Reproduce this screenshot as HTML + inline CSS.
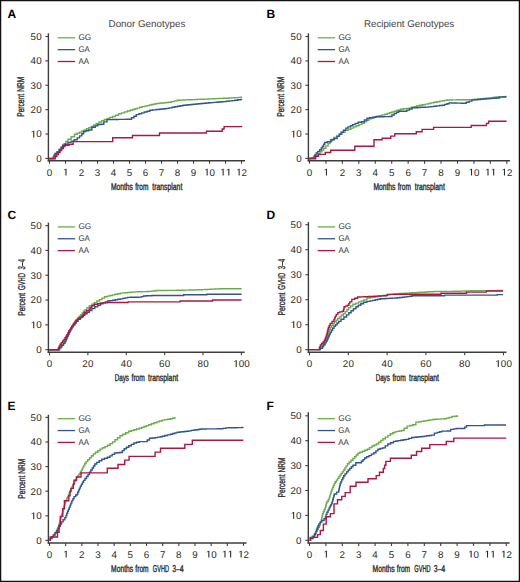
<!DOCTYPE html><html><head><meta charset="utf-8"><style>html,body{margin:0;padding:0;background:#fff;}svg{display:block;}text{font-family:"Liberation Sans", sans-serif;text-rendering:geometricPrecision;}</style></head><body>
<svg width="520" height="582" viewBox="0 0 520 582">
<rect x="0" y="0" width="520" height="582" fill="#fff"/>
<line x1="48.4" y1="33.3" x2="48.4" y2="161.39999999999998" stroke="#3d3d3d" stroke-width="1.4"/>
<line x1="47.699999999999996" y1="160.7" x2="245" y2="160.7" stroke="#3d3d3d" stroke-width="1.5"/>
<line x1="45.4" y1="158.40" x2="48.4" y2="158.40" stroke="#3d3d3d" stroke-width="1.1"/>
<text x="38.95" y="161.8" font-size="9.8" text-anchor="middle" fill="#2a2a2a">0</text>
<line x1="45.4" y1="134.02" x2="48.4" y2="134.02" stroke="#3d3d3d" stroke-width="1.1"/>
<path transform="translate(30.40,137.42) scale(0.005004,-0.004785)" d="M560 0H775V1409H620L240 1170V1040L560 1225Z" fill="#2a2a2a"/>
<text x="38.95" y="137.42" font-size="9.8" text-anchor="middle" fill="#2a2a2a">0</text>
<line x1="45.4" y1="109.64" x2="48.4" y2="109.64" stroke="#3d3d3d" stroke-width="1.1"/>
<text x="33.25" y="113.04" font-size="9.8" text-anchor="middle" fill="#2a2a2a">2</text>
<text x="38.95" y="113.04" font-size="9.8" text-anchor="middle" fill="#2a2a2a">0</text>
<line x1="45.4" y1="85.26" x2="48.4" y2="85.26" stroke="#3d3d3d" stroke-width="1.1"/>
<text x="33.25" y="88.66" font-size="9.8" text-anchor="middle" fill="#2a2a2a">3</text>
<text x="38.95" y="88.66" font-size="9.8" text-anchor="middle" fill="#2a2a2a">0</text>
<line x1="45.4" y1="60.88" x2="48.4" y2="60.88" stroke="#3d3d3d" stroke-width="1.1"/>
<text x="33.25" y="64.28" font-size="9.8" text-anchor="middle" fill="#2a2a2a">4</text>
<text x="38.95" y="64.28" font-size="9.8" text-anchor="middle" fill="#2a2a2a">0</text>
<line x1="45.4" y1="36.50" x2="48.4" y2="36.50" stroke="#3d3d3d" stroke-width="1.1"/>
<text x="33.25" y="39.9" font-size="9.8" text-anchor="middle" fill="#2a2a2a">5</text>
<text x="38.95" y="39.9" font-size="9.8" text-anchor="middle" fill="#2a2a2a">0</text>
<line x1="49.50" y1="160.7" x2="49.50" y2="163.7" stroke="#3d3d3d" stroke-width="1.1"/>
<text x="49.50" y="175.6" font-size="9.8" text-anchor="middle" fill="#2a2a2a">0</text>
<line x1="65.50" y1="160.7" x2="65.50" y2="163.7" stroke="#3d3d3d" stroke-width="1.1"/>
<path transform="translate(62.65,175.6) scale(0.005004,-0.004785)" d="M560 0H775V1409H620L240 1170V1040L560 1225Z" fill="#2a2a2a"/>
<line x1="81.50" y1="160.7" x2="81.50" y2="163.7" stroke="#3d3d3d" stroke-width="1.1"/>
<text x="81.50" y="175.6" font-size="9.8" text-anchor="middle" fill="#2a2a2a">2</text>
<line x1="97.50" y1="160.7" x2="97.50" y2="163.7" stroke="#3d3d3d" stroke-width="1.1"/>
<text x="97.50" y="175.6" font-size="9.8" text-anchor="middle" fill="#2a2a2a">3</text>
<line x1="113.50" y1="160.7" x2="113.50" y2="163.7" stroke="#3d3d3d" stroke-width="1.1"/>
<text x="113.50" y="175.6" font-size="9.8" text-anchor="middle" fill="#2a2a2a">4</text>
<line x1="129.50" y1="160.7" x2="129.50" y2="163.7" stroke="#3d3d3d" stroke-width="1.1"/>
<text x="129.50" y="175.6" font-size="9.8" text-anchor="middle" fill="#2a2a2a">5</text>
<line x1="145.50" y1="160.7" x2="145.50" y2="163.7" stroke="#3d3d3d" stroke-width="1.1"/>
<text x="145.50" y="175.6" font-size="9.8" text-anchor="middle" fill="#2a2a2a">6</text>
<line x1="161.50" y1="160.7" x2="161.50" y2="163.7" stroke="#3d3d3d" stroke-width="1.1"/>
<text x="161.50" y="175.6" font-size="9.8" text-anchor="middle" fill="#2a2a2a">7</text>
<line x1="177.50" y1="160.7" x2="177.50" y2="163.7" stroke="#3d3d3d" stroke-width="1.1"/>
<text x="177.50" y="175.6" font-size="9.8" text-anchor="middle" fill="#2a2a2a">8</text>
<line x1="193.50" y1="160.7" x2="193.50" y2="163.7" stroke="#3d3d3d" stroke-width="1.1"/>
<text x="193.50" y="175.6" font-size="9.8" text-anchor="middle" fill="#2a2a2a">9</text>
<line x1="209.50" y1="160.7" x2="209.50" y2="163.7" stroke="#3d3d3d" stroke-width="1.1"/>
<path transform="translate(203.80,175.6) scale(0.005004,-0.004785)" d="M560 0H775V1409H620L240 1170V1040L560 1225Z" fill="#2a2a2a"/>
<text x="212.35" y="175.6" font-size="9.8" text-anchor="middle" fill="#2a2a2a">0</text>
<line x1="225.50" y1="160.7" x2="225.50" y2="163.7" stroke="#3d3d3d" stroke-width="1.1"/>
<path transform="translate(219.80,175.6) scale(0.005004,-0.004785)" d="M560 0H775V1409H620L240 1170V1040L560 1225Z" fill="#2a2a2a"/>
<path transform="translate(225.50,175.6) scale(0.005004,-0.004785)" d="M560 0H775V1409H620L240 1170V1040L560 1225Z" fill="#2a2a2a"/>
<line x1="241.50" y1="160.7" x2="241.50" y2="163.7" stroke="#3d3d3d" stroke-width="1.1"/>
<path transform="translate(235.80,175.6) scale(0.005004,-0.004785)" d="M560 0H775V1409H620L240 1170V1040L560 1225Z" fill="#2a2a2a"/>
<text x="244.35" y="175.6" font-size="9.8" text-anchor="middle" fill="#2a2a2a">2</text>
<line x1="57.7" y1="37.80" x2="75.1" y2="37.80" stroke="#6aae4a" stroke-width="1.3"/>
<text x="78.4" y="40.1" font-size="8.3" font-weight="normal" text-anchor="start" fill="#333" textLength="12.9" lengthAdjust="spacingAndGlyphs">GG</text>
<line x1="57.7" y1="49.65" x2="75.1" y2="49.65" stroke="#33558f" stroke-width="1.3"/>
<text x="78.4" y="51.95" font-size="8.3" font-weight="normal" text-anchor="start" fill="#333" textLength="11.4" lengthAdjust="spacingAndGlyphs">GA</text>
<line x1="57.7" y1="61.50" x2="75.1" y2="61.50" stroke="#ae1640" stroke-width="1.3"/>
<text x="78.4" y="63.8" font-size="8.3" font-weight="normal" text-anchor="start" fill="#333" textLength="10.6" lengthAdjust="spacingAndGlyphs">AA</text>
<text x="7.6" y="17.6" font-size="12" font-weight="bold" text-anchor="start" fill="#000">A</text>
<text x="108.6" y="26.6" font-size="9.8" font-weight="normal" text-anchor="start" fill="#444" textLength="76.8" lengthAdjust="spacingAndGlyphs">Donor Genotypes</text>
<text x="110.90" y="190.1" font-size="10.0" fill="#2a2a2a" stroke="#2a2a2a" stroke-width="0.4" textLength="22.10" lengthAdjust="spacingAndGlyphs">Months</text>
<text x="135.30" y="190.1" font-size="10.0" fill="#2a2a2a" stroke="#2a2a2a" stroke-width="0.4" textLength="13.10" lengthAdjust="spacingAndGlyphs">from</text>
<text x="152.30" y="190.1" font-size="10.0" fill="#2a2a2a" stroke="#2a2a2a" stroke-width="0.4" textLength="30.00" lengthAdjust="spacingAndGlyphs">transplant</text>
<text transform="translate(23.9,116.80) rotate(-90)" x="0" y="0" font-size="9.9" fill="#2a2a2a" stroke="#2a2a2a" stroke-width="0.35" textLength="22.90" lengthAdjust="spacingAndGlyphs">Percent</text>
<text transform="translate(23.9,91.80) rotate(-90)" x="0" y="0" font-size="9.9" fill="#2a2a2a" stroke="#2a2a2a" stroke-width="0.35" textLength="15.00" lengthAdjust="spacingAndGlyphs">NRM</text>
<polyline points="49.0,158.5 53.3,158.5 53.4,158.5 53.4,156.9 53.5,156.9 54.1,156.9 54.1,155.2 55.2,155.2 55.2,153.4 55.8,153.4 57.0,153.4 57.0,152.0 58.1,152.0 59.2,152.0 59.2,149.4 60.4,149.4 61.3,149.4 61.3,147.0 62.2,147.0 62.8,147.0 62.8,145.3 64.0,145.3 64.0,143.6 64.6,143.6 65.8,143.6 65.8,141.4 68.0,141.4 68.0,139.3 69.2,139.3 71.1,139.3 71.1,136.7 73.0,136.7 74.5,136.7 74.5,134.3 76.0,134.3 77.2,134.3 77.2,133.2 78.5,133.2 79.7,133.2 79.7,132.1 81.9,132.1 81.9,130.9 83.1,130.9 84.2,130.9 84.2,129.9 86.5,129.9 86.5,128.8 87.7,128.8 88.8,128.8 88.8,127.7 91.2,127.7 91.2,126.5 92.3,126.5 93.7,126.5 93.7,125.0 96.3,125.0 96.3,123.5 97.7,123.5 99.0,123.5 99.0,122.0 101.8,122.0 101.8,120.6 103.1,120.6 104.4,120.6 104.4,119.5 107.2,119.5 107.2,118.5 108.5,118.5 109.8,118.5 109.8,117.5 112.5,117.5 112.5,116.5 113.8,116.5 115.3,116.5 115.3,115.2 118.5,115.2 118.5,113.8 120.0,113.8 121.5,113.8 121.5,112.9 124.5,112.9 124.5,111.9 127.4,111.9 127.4,111.0 128.9,111.0 130.1,111.0 130.1,110.3 132.5,110.3 132.5,109.5 134.9,109.5 134.9,108.8 137.3,108.8 137.3,108.1 139.7,108.1 139.7,107.3 142.1,107.3 142.1,106.6 143.3,106.6 144.5,106.6 144.5,106.1 146.9,106.1 146.9,105.6 149.3,105.6 149.3,105.0 151.7,105.0 151.7,104.5 154.1,104.5 154.1,104.0 156.5,104.0 156.5,103.5 157.7,103.5 158.9,103.5 158.9,103.3 161.4,103.3 161.4,103.0 163.8,103.0 163.8,102.8 166.3,102.8 166.3,102.5 168.8,102.5 168.8,102.3 170.0,102.3 171.4,102.3 171.4,101.6 174.3,101.6 174.3,100.9 177.2,100.9 177.2,100.2 178.7,100.2 179.9,100.2 179.9,100.1 182.4,100.1 182.4,100.0 184.9,100.0 184.9,99.9 187.4,99.9 187.4,99.8 189.9,99.8 189.9,99.7 192.4,99.7 192.4,99.6 194.9,99.6 194.9,99.5 197.4,99.5 197.4,99.4 199.9,99.4 199.9,99.3 202.4,99.3 202.4,99.2 204.9,99.2 204.9,99.1 206.1,99.1 207.4,99.1 207.4,99.0 210.1,99.0 210.1,98.9 212.8,98.9 212.8,98.8 215.4,98.8 215.4,98.6 218.1,98.6 218.1,98.5 220.8,98.5 220.8,98.4 223.5,98.4 223.5,98.3 224.8,98.3 226.0,98.3 226.0,98.2 228.5,98.2 228.5,98.0 231.0,98.0 231.0,97.9 233.5,97.9 233.5,97.7 236.0,97.7 236.0,97.6 238.5,97.6 238.5,97.4 241.0,97.4 241.0,97.3 242.2,97.3" fill="none" stroke="#6aae4a" stroke-width="1.4" stroke-linejoin="miter" stroke-linecap="butt"/>
<polyline points="49.0,158.5 53.3,158.5 53.4,158.5 53.4,156.9 53.5,156.9 54.1,156.9 54.1,155.2 55.2,155.2 55.2,153.4 55.8,153.4 57.0,153.4 57.0,152.0 58.1,152.0 59.2,152.0 59.2,149.4 60.4,149.4 61.1,149.4 61.1,147.4 62.6,147.4 62.6,145.3 63.3,145.3 64.8,145.3 64.8,144.2 66.2,144.2 68.0,144.2 68.0,142.4 69.7,142.4 71.1,142.4 71.1,141.3 72.5,141.3 74.2,141.3 74.2,139.8 76.0,139.8 77.2,139.8 77.2,137.9 79.6,137.9 79.6,135.9 80.8,135.9 81.8,135.9 81.8,133.7 83.6,133.7 83.6,131.5 84.6,131.5 85.9,131.5 85.9,130.8 88.7,130.8 88.7,130.0 90.0,130.0 91.9,130.0 91.9,127.3 93.8,127.3 95.2,127.3 95.2,125.9 97.8,125.9 97.8,124.6 99.2,124.6 100.8,124.6 100.8,124.2 102.3,124.2 103.8,124.2 103.8,121.9 107.0,121.9 107.0,119.6 108.5,119.6 109.9,119.6 109.9,119.6 112.6,119.6 112.6,119.5 115.3,119.5 115.3,119.5 118.0,119.5 118.0,119.4 120.8,119.4 120.8,119.4 123.5,119.4 123.5,119.4 126.2,119.4 126.2,119.3 128.9,119.3 128.9,119.3 130.3,119.3 131.5,119.3 131.5,117.7 133.9,117.7 133.9,116.2 136.3,116.2 136.3,114.6 137.5,114.6 138.9,114.6 138.9,113.7 141.6,113.7 141.6,112.9 144.3,112.9 144.3,112.0 147.1,112.0 147.1,111.2 149.8,111.2 149.8,110.3 151.2,110.3 152.8,110.3 152.8,109.9 156.1,109.9 156.1,109.5 157.7,109.5 159.0,109.5 159.0,109.2 161.5,109.2 161.5,109.0 164.0,109.0 164.0,108.7 166.5,108.7 166.5,108.4 167.8,108.4 169.2,108.4 169.2,107.9 172.0,107.9 172.0,107.3 174.7,107.3 174.7,106.8 177.5,106.8 177.5,106.3 180.2,106.3 180.2,105.7 183.0,105.7 183.0,105.2 184.4,105.2 185.7,105.2 185.7,105.0 188.2,105.0 188.2,104.7 190.8,104.7 190.8,104.5 193.4,104.5 193.4,104.2 195.9,104.2 195.9,104.0 198.5,104.0 198.5,103.7 201.1,103.7 201.1,103.5 203.7,103.5 203.7,103.2 206.2,103.2 206.2,103.0 207.5,103.0 208.7,103.0 208.7,102.8 211.2,102.8 211.2,102.6 213.7,102.6 213.7,102.4 216.2,102.4 216.2,102.2 218.6,102.2 218.6,102.0 221.1,102.0 221.1,101.8 223.6,101.8 223.6,101.6 224.8,101.6 226.2,101.6 226.2,101.3 229.2,101.3 229.2,100.9 232.1,100.9 232.1,100.6 233.5,100.6 234.9,100.6 234.9,100.2 237.8,100.2 237.8,99.8 240.8,99.8 240.8,99.4 242.2,99.4" fill="none" stroke="#33558f" stroke-width="1.4" stroke-linejoin="miter" stroke-linecap="butt"/>
<polyline points="49.0,158.7 55.2,158.7 55.2,156.5 56.8,156.5 56.8,154.5 58.4,154.5 58.4,152.5 60.0,152.5 60.0,150.5 61.6,150.5 61.6,148.5 63.3,148.5 63.3,146.5 65.0,146.5 65.0,145.3 69.1,145.3 69.1,144.2 73.1,144.2 73.1,141.6 112.7,141.6 112.7,137.7 132.5,137.7 132.5,135.5 159.5,135.5 159.5,133.0 206.4,133.0 206.4,131.2 222.2,131.2 222.2,129.0 224.1,129.0 224.1,126.6 242.2,126.6 242.2,126.6" fill="none" stroke="#ae1640" stroke-width="1.4" stroke-linejoin="miter" stroke-linecap="butt"/>
<line x1="308.4" y1="33.3" x2="308.4" y2="161.39999999999998" stroke="#3d3d3d" stroke-width="1.4"/>
<line x1="307.7" y1="160.7" x2="510" y2="160.7" stroke="#3d3d3d" stroke-width="1.5"/>
<line x1="305.4" y1="158.40" x2="308.4" y2="158.40" stroke="#3d3d3d" stroke-width="1.1"/>
<text x="298.95" y="161.8" font-size="9.8" text-anchor="middle" fill="#2a2a2a">0</text>
<line x1="305.4" y1="134.02" x2="308.4" y2="134.02" stroke="#3d3d3d" stroke-width="1.1"/>
<path transform="translate(290.40,137.42) scale(0.005004,-0.004785)" d="M560 0H775V1409H620L240 1170V1040L560 1225Z" fill="#2a2a2a"/>
<text x="298.95" y="137.42" font-size="9.8" text-anchor="middle" fill="#2a2a2a">0</text>
<line x1="305.4" y1="109.64" x2="308.4" y2="109.64" stroke="#3d3d3d" stroke-width="1.1"/>
<text x="293.25" y="113.04" font-size="9.8" text-anchor="middle" fill="#2a2a2a">2</text>
<text x="298.95" y="113.04" font-size="9.8" text-anchor="middle" fill="#2a2a2a">0</text>
<line x1="305.4" y1="85.26" x2="308.4" y2="85.26" stroke="#3d3d3d" stroke-width="1.1"/>
<text x="293.25" y="88.66" font-size="9.8" text-anchor="middle" fill="#2a2a2a">3</text>
<text x="298.95" y="88.66" font-size="9.8" text-anchor="middle" fill="#2a2a2a">0</text>
<line x1="305.4" y1="60.88" x2="308.4" y2="60.88" stroke="#3d3d3d" stroke-width="1.1"/>
<text x="293.25" y="64.28" font-size="9.8" text-anchor="middle" fill="#2a2a2a">4</text>
<text x="298.95" y="64.28" font-size="9.8" text-anchor="middle" fill="#2a2a2a">0</text>
<line x1="305.4" y1="36.50" x2="308.4" y2="36.50" stroke="#3d3d3d" stroke-width="1.1"/>
<text x="293.25" y="39.9" font-size="9.8" text-anchor="middle" fill="#2a2a2a">5</text>
<text x="298.95" y="39.9" font-size="9.8" text-anchor="middle" fill="#2a2a2a">0</text>
<line x1="309.50" y1="160.7" x2="309.50" y2="163.7" stroke="#3d3d3d" stroke-width="1.1"/>
<text x="309.50" y="175.6" font-size="9.8" text-anchor="middle" fill="#2a2a2a">0</text>
<line x1="325.94" y1="160.7" x2="325.94" y2="163.7" stroke="#3d3d3d" stroke-width="1.1"/>
<path transform="translate(323.09,175.6) scale(0.005004,-0.004785)" d="M560 0H775V1409H620L240 1170V1040L560 1225Z" fill="#2a2a2a"/>
<line x1="342.38" y1="160.7" x2="342.38" y2="163.7" stroke="#3d3d3d" stroke-width="1.1"/>
<text x="342.38" y="175.6" font-size="9.8" text-anchor="middle" fill="#2a2a2a">2</text>
<line x1="358.82" y1="160.7" x2="358.82" y2="163.7" stroke="#3d3d3d" stroke-width="1.1"/>
<text x="358.82" y="175.6" font-size="9.8" text-anchor="middle" fill="#2a2a2a">3</text>
<line x1="375.27" y1="160.7" x2="375.27" y2="163.7" stroke="#3d3d3d" stroke-width="1.1"/>
<text x="375.27" y="175.6" font-size="9.8" text-anchor="middle" fill="#2a2a2a">4</text>
<line x1="391.71" y1="160.7" x2="391.71" y2="163.7" stroke="#3d3d3d" stroke-width="1.1"/>
<text x="391.71" y="175.6" font-size="9.8" text-anchor="middle" fill="#2a2a2a">5</text>
<line x1="408.15" y1="160.7" x2="408.15" y2="163.7" stroke="#3d3d3d" stroke-width="1.1"/>
<text x="408.15" y="175.6" font-size="9.8" text-anchor="middle" fill="#2a2a2a">6</text>
<line x1="424.59" y1="160.7" x2="424.59" y2="163.7" stroke="#3d3d3d" stroke-width="1.1"/>
<text x="424.59" y="175.6" font-size="9.8" text-anchor="middle" fill="#2a2a2a">7</text>
<line x1="441.03" y1="160.7" x2="441.03" y2="163.7" stroke="#3d3d3d" stroke-width="1.1"/>
<text x="441.03" y="175.6" font-size="9.8" text-anchor="middle" fill="#2a2a2a">8</text>
<line x1="457.48" y1="160.7" x2="457.48" y2="163.7" stroke="#3d3d3d" stroke-width="1.1"/>
<text x="457.48" y="175.6" font-size="9.8" text-anchor="middle" fill="#2a2a2a">9</text>
<line x1="473.92" y1="160.7" x2="473.92" y2="163.7" stroke="#3d3d3d" stroke-width="1.1"/>
<path transform="translate(468.22,175.6) scale(0.005004,-0.004785)" d="M560 0H775V1409H620L240 1170V1040L560 1225Z" fill="#2a2a2a"/>
<text x="476.77" y="175.6" font-size="9.8" text-anchor="middle" fill="#2a2a2a">0</text>
<line x1="490.36" y1="160.7" x2="490.36" y2="163.7" stroke="#3d3d3d" stroke-width="1.1"/>
<path transform="translate(484.66,175.6) scale(0.005004,-0.004785)" d="M560 0H775V1409H620L240 1170V1040L560 1225Z" fill="#2a2a2a"/>
<path transform="translate(490.36,175.6) scale(0.005004,-0.004785)" d="M560 0H775V1409H620L240 1170V1040L560 1225Z" fill="#2a2a2a"/>
<line x1="506.80" y1="160.7" x2="506.80" y2="163.7" stroke="#3d3d3d" stroke-width="1.1"/>
<path transform="translate(501.10,175.6) scale(0.005004,-0.004785)" d="M560 0H775V1409H620L240 1170V1040L560 1225Z" fill="#2a2a2a"/>
<text x="509.65" y="175.6" font-size="9.8" text-anchor="middle" fill="#2a2a2a">2</text>
<line x1="317.7" y1="37.80" x2="335.09999999999997" y2="37.80" stroke="#6aae4a" stroke-width="1.3"/>
<text x="338.4" y="40.1" font-size="8.3" font-weight="normal" text-anchor="start" fill="#333" textLength="12.9" lengthAdjust="spacingAndGlyphs">GG</text>
<line x1="317.7" y1="49.65" x2="335.09999999999997" y2="49.65" stroke="#33558f" stroke-width="1.3"/>
<text x="338.4" y="51.95" font-size="8.3" font-weight="normal" text-anchor="start" fill="#333" textLength="11.4" lengthAdjust="spacingAndGlyphs">GA</text>
<line x1="317.7" y1="61.50" x2="335.09999999999997" y2="61.50" stroke="#ae1640" stroke-width="1.3"/>
<text x="338.4" y="63.8" font-size="8.3" font-weight="normal" text-anchor="start" fill="#333" textLength="10.6" lengthAdjust="spacingAndGlyphs">AA</text>
<text x="266.6" y="17.6" font-size="12" font-weight="bold" text-anchor="start" fill="#000">B</text>
<text x="364.0" y="26.6" font-size="9.8" font-weight="normal" text-anchor="start" fill="#444" textLength="90.2" lengthAdjust="spacingAndGlyphs">Recipient Genotypes</text>
<text x="373.40" y="190.1" font-size="10.0" fill="#2a2a2a" stroke="#2a2a2a" stroke-width="0.4" textLength="22.10" lengthAdjust="spacingAndGlyphs">Months</text>
<text x="397.80" y="190.1" font-size="10.0" fill="#2a2a2a" stroke="#2a2a2a" stroke-width="0.4" textLength="13.10" lengthAdjust="spacingAndGlyphs">from</text>
<text x="414.80" y="190.1" font-size="10.0" fill="#2a2a2a" stroke="#2a2a2a" stroke-width="0.4" textLength="30.00" lengthAdjust="spacingAndGlyphs">transplant</text>
<text transform="translate(284.0,116.80) rotate(-90)" x="0" y="0" font-size="9.9" fill="#2a2a2a" stroke="#2a2a2a" stroke-width="0.35" textLength="22.90" lengthAdjust="spacingAndGlyphs">Percent</text>
<text transform="translate(284.0,91.80) rotate(-90)" x="0" y="0" font-size="9.9" fill="#2a2a2a" stroke="#2a2a2a" stroke-width="0.35" textLength="15.00" lengthAdjust="spacingAndGlyphs">NRM</text>
<polyline points="309.0,158.5 310.0,158.5 310.0,158.2 312.0,158.2 312.0,158.0 313.0,158.0 314.5,158.0 314.5,155.8 317.6,155.8 317.6,153.7 319.1,153.7 320.0,153.7 320.0,151.9 321.9,151.9 321.9,150.1 323.7,150.1 323.7,148.3 324.6,148.3 325.8,148.3 325.8,145.9 328.1,145.9 328.1,143.6 329.2,143.6 330.1,143.6 330.1,141.5 331.9,141.5 331.9,139.5 333.7,139.5 333.7,137.4 334.6,137.4 336.6,137.4 336.6,135.9 338.5,135.9 339.6,135.9 339.6,134.2 342.0,134.2 342.0,132.4 343.1,132.4 345.0,132.4 345.0,130.4 346.9,130.4 348.2,130.4 348.2,129.2 350.9,129.2 350.9,128.1 353.6,128.1 353.6,126.9 355.0,126.9 356.4,126.9 356.4,125.7 359.1,125.7 359.1,124.6 361.8,124.6 361.8,123.4 363.1,123.4 364.2,123.4 364.2,121.9 366.6,121.9 366.6,120.3 368.9,120.3 368.9,118.8 370.0,118.8 371.4,118.8 371.4,118.0 374.1,118.0 374.1,117.1 376.8,117.1 376.8,116.3 378.1,116.3 379.4,116.3 379.4,115.6 382.1,115.6 382.1,114.9 384.8,114.9 384.8,114.2 386.1,114.2 387.3,114.2 387.3,113.5 389.6,113.5 389.6,112.8 391.9,112.8 391.9,112.0 394.2,112.0 394.2,111.3 395.4,111.3 397.0,111.3 397.0,110.2 400.3,110.2 400.3,109.2 401.9,109.2 403.2,109.2 403.2,108.8 405.9,108.8 405.9,108.5 408.6,108.5 408.6,108.1 410.0,108.1 411.4,108.1 411.4,107.3 414.1,107.3 414.1,106.6 416.8,106.6 416.8,105.8 418.1,105.8 419.5,105.8 419.5,105.2 422.4,105.2 422.4,104.7 425.3,104.7 425.3,104.1 428.2,104.1 428.2,103.5 429.6,103.5 431.0,103.5 431.0,102.9 433.9,102.9 433.9,102.3 436.8,102.3 436.8,101.7 439.7,101.7 439.7,101.1 441.1,101.1 442.2,101.1 442.2,100.7 444.6,100.7 444.6,100.4 446.9,100.4 446.9,100.0 448.0,100.0 449.3,100.0 449.3,100.0 451.9,100.0 451.9,99.9 454.4,99.9 454.4,99.9 457.0,99.9 457.0,99.8 459.6,99.8 459.6,99.8 462.2,99.8 462.2,99.7 464.8,99.7 464.8,99.7 467.3,99.7 467.3,99.6 469.9,99.6 469.9,99.6 471.2,99.6 472.5,99.6 472.5,99.4 475.1,99.4 475.1,99.1 477.8,99.1 477.8,98.9 480.4,98.9 480.4,98.7 483.1,98.7 483.1,98.4 485.7,98.4 485.7,98.2 487.0,98.2 488.3,98.2 488.3,97.9 490.8,97.9 490.8,97.6 493.4,97.6 493.4,97.3 495.9,97.3 495.9,97.0 498.4,97.0 498.4,96.7 499.7,96.7 500.9,96.7 500.9,96.6 503.1,96.6 503.1,96.6 505.5,96.6 505.5,96.5 506.6,96.5" fill="none" stroke="#6aae4a" stroke-width="1.4" stroke-linejoin="miter" stroke-linecap="butt"/>
<polyline points="309.0,158.5 310.1,158.5 310.1,158.2 312.2,158.2 312.2,158.0 313.3,158.0 313.9,158.0 313.9,156.3 315.1,156.3 315.1,154.6 316.2,154.6 316.2,152.9 316.8,152.9 317.8,152.9 317.8,151.4 319.7,151.4 319.7,149.8 320.7,149.8 321.3,149.8 321.3,148.0 322.4,148.0 322.4,146.2 323.6,146.2 323.6,144.3 324.7,144.3 324.7,142.5 325.3,142.5 327.2,142.5 327.2,141.7 329.2,141.7 330.8,141.7 330.8,139.7 332.3,139.7 334.2,139.7 334.2,138.6 336.2,138.6 337.1,138.6 337.1,136.4 339.1,136.4 339.1,134.3 340.0,134.3 341.1,134.3 341.1,132.2 343.4,132.2 343.4,130.2 345.8,130.2 345.8,128.1 346.9,128.1 348.0,128.1 348.0,126.9 350.4,126.9 350.4,125.8 352.6,125.8 352.6,124.6 353.8,124.6 355.2,124.6 355.2,123.4 358.2,123.4 358.2,122.3 359.6,122.3 361.4,122.3 361.4,121.7 363.1,121.7 364.4,121.7 364.4,120.0 367.0,120.0 367.0,118.3 368.3,118.3 369.7,118.3 369.7,117.8 372.6,117.8 372.6,117.3 375.5,117.3 375.5,116.8 376.9,116.8 378.3,116.8 378.3,116.7 381.0,116.7 381.0,116.7 383.8,116.7 383.8,116.6 386.6,116.6 386.6,116.6 389.3,116.6 389.3,116.5 390.7,116.5 391.9,116.5 391.9,115.0 394.2,115.0 394.2,113.6 395.4,113.6 396.4,113.6 396.4,112.4 398.6,112.4 398.6,111.3 399.6,111.3 405.4,111.3 406.8,111.3 406.8,110.1 409.4,110.1 409.4,109.0 412.1,109.0 412.1,107.8 413.5,107.8 414.8,107.8 414.8,107.7 417.5,107.7 417.5,107.5 420.2,107.5 420.2,107.3 422.9,107.3 422.9,107.2 425.6,107.2 425.6,107.1 428.3,107.1 428.3,106.9 429.6,106.9 431.0,106.9 431.0,106.6 433.7,106.6 433.7,106.2 436.5,106.2 436.5,105.9 439.3,105.9 439.3,105.5 442.0,105.5 442.0,105.2 443.4,105.2 444.6,105.2 444.6,104.4 446.9,104.4 446.9,103.7 449.2,103.7 449.2,102.9 450.4,102.9 451.6,102.9 451.6,103.0 454.0,103.0 454.0,103.0 456.4,103.0 456.4,103.1 458.8,103.1 458.8,103.1 461.2,103.1 461.2,103.2 463.6,103.2 463.6,103.2 464.8,103.2 466.2,103.2 466.2,102.2 469.1,102.2 469.1,101.1 471.9,101.1 471.9,100.1 473.3,100.1 474.8,100.1 474.8,99.8 477.6,99.8 477.6,99.5 480.6,99.5 480.6,99.3 483.4,99.3 483.4,99.0 484.9,99.0 486.2,99.0 486.2,98.8 488.9,98.8 488.9,98.6 491.5,98.6 491.5,98.4 494.1,98.4 494.1,98.2 496.8,98.2 496.8,98.0 498.1,98.0 499.5,98.0 499.5,97.1 500.8,97.1 502.2,97.1 502.2,97.0 505.2,97.0 505.2,96.9 506.6,96.9" fill="none" stroke="#33558f" stroke-width="1.4" stroke-linejoin="miter" stroke-linecap="butt"/>
<polyline points="309.0,158.9 315.7,158.9 315.7,156.4 318.4,156.4 318.4,154.4 325.3,154.4 325.3,152.5 330.7,152.5 330.7,150.2 354.8,150.2 354.8,146.3 374.0,146.3 374.0,139.8 382.1,139.8 382.1,138.2 390.7,138.2 390.7,136.1 394.8,136.1 394.8,133.8 416.3,133.8 416.3,131.7 422.1,131.7 422.1,129.4 433.6,129.4 433.6,127.4 471.2,127.4 471.2,125.5 486.5,125.5 486.5,123.4 488.6,123.4 488.6,121.3 506.6,121.3 506.6,121.3" fill="none" stroke="#ae1640" stroke-width="1.4" stroke-linejoin="miter" stroke-linecap="butt"/>
<line x1="48.4" y1="222.6" x2="48.4" y2="353.0" stroke="#3d3d3d" stroke-width="1.4"/>
<line x1="47.699999999999996" y1="352.3" x2="244.7" y2="352.3" stroke="#3d3d3d" stroke-width="1.5"/>
<line x1="45.4" y1="349.70" x2="48.4" y2="349.70" stroke="#3d3d3d" stroke-width="1.1"/>
<text x="38.95" y="353.1" font-size="9.8" text-anchor="middle" fill="#2a2a2a">0</text>
<line x1="45.4" y1="324.88" x2="48.4" y2="324.88" stroke="#3d3d3d" stroke-width="1.1"/>
<path transform="translate(30.40,328.28) scale(0.005004,-0.004785)" d="M560 0H775V1409H620L240 1170V1040L560 1225Z" fill="#2a2a2a"/>
<text x="38.95" y="328.28" font-size="9.8" text-anchor="middle" fill="#2a2a2a">0</text>
<line x1="45.4" y1="300.06" x2="48.4" y2="300.06" stroke="#3d3d3d" stroke-width="1.1"/>
<text x="33.25" y="303.46" font-size="9.8" text-anchor="middle" fill="#2a2a2a">2</text>
<text x="38.95" y="303.46" font-size="9.8" text-anchor="middle" fill="#2a2a2a">0</text>
<line x1="45.4" y1="275.24" x2="48.4" y2="275.24" stroke="#3d3d3d" stroke-width="1.1"/>
<text x="33.25" y="278.64" font-size="9.8" text-anchor="middle" fill="#2a2a2a">3</text>
<text x="38.95" y="278.64" font-size="9.8" text-anchor="middle" fill="#2a2a2a">0</text>
<line x1="45.4" y1="250.42" x2="48.4" y2="250.42" stroke="#3d3d3d" stroke-width="1.1"/>
<text x="33.25" y="253.82" font-size="9.8" text-anchor="middle" fill="#2a2a2a">4</text>
<text x="38.95" y="253.82" font-size="9.8" text-anchor="middle" fill="#2a2a2a">0</text>
<line x1="45.4" y1="225.60" x2="48.4" y2="225.60" stroke="#3d3d3d" stroke-width="1.1"/>
<text x="33.25" y="229.0" font-size="9.8" text-anchor="middle" fill="#2a2a2a">5</text>
<text x="38.95" y="229.0" font-size="9.8" text-anchor="middle" fill="#2a2a2a">0</text>
<line x1="49.50" y1="352.3" x2="49.50" y2="355.3" stroke="#3d3d3d" stroke-width="1.1"/>
<text x="49.50" y="366.9" font-size="9.8" text-anchor="middle" fill="#2a2a2a">0</text>
<line x1="87.88" y1="352.3" x2="87.88" y2="355.3" stroke="#3d3d3d" stroke-width="1.1"/>
<text x="85.03" y="366.9" font-size="9.8" text-anchor="middle" fill="#2a2a2a">2</text>
<text x="90.73" y="366.9" font-size="9.8" text-anchor="middle" fill="#2a2a2a">0</text>
<line x1="126.26" y1="352.3" x2="126.26" y2="355.3" stroke="#3d3d3d" stroke-width="1.1"/>
<text x="123.41" y="366.9" font-size="9.8" text-anchor="middle" fill="#2a2a2a">4</text>
<text x="129.11" y="366.9" font-size="9.8" text-anchor="middle" fill="#2a2a2a">0</text>
<line x1="164.64" y1="352.3" x2="164.64" y2="355.3" stroke="#3d3d3d" stroke-width="1.1"/>
<text x="161.79" y="366.9" font-size="9.8" text-anchor="middle" fill="#2a2a2a">6</text>
<text x="167.49" y="366.9" font-size="9.8" text-anchor="middle" fill="#2a2a2a">0</text>
<line x1="203.02" y1="352.3" x2="203.02" y2="355.3" stroke="#3d3d3d" stroke-width="1.1"/>
<text x="200.17" y="366.9" font-size="9.8" text-anchor="middle" fill="#2a2a2a">8</text>
<text x="205.87" y="366.9" font-size="9.8" text-anchor="middle" fill="#2a2a2a">0</text>
<line x1="241.40" y1="352.3" x2="241.40" y2="355.3" stroke="#3d3d3d" stroke-width="1.1"/>
<path transform="translate(232.85,366.9) scale(0.005004,-0.004785)" d="M560 0H775V1409H620L240 1170V1040L560 1225Z" fill="#2a2a2a"/>
<text x="241.40" y="366.9" font-size="9.8" text-anchor="middle" fill="#2a2a2a">0</text>
<text x="247.10" y="366.9" font-size="9.8" text-anchor="middle" fill="#2a2a2a">0</text>
<line x1="57.7" y1="226.90" x2="75.1" y2="226.90" stroke="#6aae4a" stroke-width="1.3"/>
<text x="78.4" y="229.2" font-size="8.3" font-weight="normal" text-anchor="start" fill="#333" textLength="12.9" lengthAdjust="spacingAndGlyphs">GG</text>
<line x1="57.7" y1="238.75" x2="75.1" y2="238.75" stroke="#33558f" stroke-width="1.3"/>
<text x="78.4" y="241.05" font-size="8.3" font-weight="normal" text-anchor="start" fill="#333" textLength="11.4" lengthAdjust="spacingAndGlyphs">GA</text>
<line x1="57.7" y1="250.60" x2="75.1" y2="250.60" stroke="#ae1640" stroke-width="1.3"/>
<text x="78.4" y="252.9" font-size="8.3" font-weight="normal" text-anchor="start" fill="#333" textLength="10.6" lengthAdjust="spacingAndGlyphs">AA</text>
<text x="7.6" y="218.7" font-size="12" font-weight="bold" text-anchor="start" fill="#000">C</text>
<text x="114.80" y="381.4" font-size="10.0" fill="#2a2a2a" stroke="#2a2a2a" stroke-width="0.4" textLength="14.10" lengthAdjust="spacingAndGlyphs">Days</text>
<text x="131.55" y="381.4" font-size="10.0" fill="#2a2a2a" stroke="#2a2a2a" stroke-width="0.4" textLength="13.30" lengthAdjust="spacingAndGlyphs">from</text>
<text x="148.10" y="381.4" font-size="10.0" fill="#2a2a2a" stroke="#2a2a2a" stroke-width="0.4" textLength="30.00" lengthAdjust="spacingAndGlyphs">transplant</text>
<text transform="translate(24.6,315.80) rotate(-90)" x="0" y="0" font-size="9.9" fill="#2a2a2a" stroke="#2a2a2a" stroke-width="0.35" textLength="23.00" lengthAdjust="spacingAndGlyphs">Percent</text>
<text transform="translate(24.6,289.90) rotate(-90)" x="0" y="0" font-size="9.9" fill="#2a2a2a" stroke="#2a2a2a" stroke-width="0.35" textLength="17.00" lengthAdjust="spacingAndGlyphs">GVHD</text>
<text transform="translate(24.6,269.60) rotate(-90)" x="0" y="0" font-size="9.9" fill="#2a2a2a" stroke="#2a2a2a" stroke-width="0.35" textLength="3.36" lengthAdjust="spacingAndGlyphs">3</text>
<line x1="22.50" y1="266.04" x2="22.50" y2="262.25" stroke="#2a2a2a" stroke-width="0.9"/>
<text transform="translate(24.6,262.25) rotate(-90)" x="0" y="0" font-size="9.9" fill="#2a2a2a" stroke="#2a2a2a" stroke-width="0.35" textLength="3.15" lengthAdjust="spacingAndGlyphs">4</text>
<polyline points="49.0,349.7 58.2,349.7 59.0,349.7 59.0,347.9 60.6,347.9 60.6,346.1 62.1,346.1 62.1,344.3 63.7,344.3 63.7,342.5 64.5,342.5 65.0,342.5 65.0,340.5 65.9,340.5 65.9,338.5 66.9,338.5 66.9,336.5 67.8,336.5 67.8,334.5 68.8,334.5 68.8,332.5 69.8,332.5 69.8,330.5 70.7,330.5 70.7,328.5 71.2,328.5 71.7,328.5 71.7,326.7 72.7,326.7 72.7,324.9 73.6,324.9 73.6,323.0 74.6,323.0 74.6,321.2 75.1,321.2 75.9,321.2 75.9,319.6 77.5,319.6 77.5,317.9 79.1,317.9 79.1,316.3 79.9,316.3 80.6,316.3 80.6,314.6 82.1,314.6 82.1,313.0 83.5,313.0 83.5,311.3 85.0,311.3 85.0,309.6 85.7,309.6 86.9,309.6 86.9,307.7 89.3,307.7 89.3,305.8 90.5,305.8 91.8,305.8 91.8,304.2 94.3,304.2 94.3,302.6 96.9,302.6 96.9,301.0 98.2,301.0 99.5,301.0 99.5,299.6 102.0,299.6 102.0,298.1 104.5,298.1 104.5,296.7 105.8,296.7 107.1,296.7 107.1,296.1 109.8,296.1 109.8,295.5 112.4,295.5 112.4,294.9 115.0,294.9 115.0,294.3 117.6,294.3 117.6,293.7 120.3,293.7 120.3,293.1 121.6,293.1 122.8,293.1 122.8,292.9 125.2,292.9 125.2,292.7 127.6,292.7 127.6,292.5 130.1,292.5 130.1,292.3 132.5,292.3 132.5,292.1 134.9,292.1 134.9,291.9 136.1,291.9 137.3,291.9 137.3,291.8 139.7,291.8 139.7,291.7 142.1,291.7 142.1,291.6 144.5,291.6 144.5,291.6 146.9,291.6 146.9,291.5 149.3,291.5 149.3,291.4 150.5,291.4 151.7,291.4 151.7,291.1 154.1,291.1 154.1,290.8 156.5,290.8 156.5,290.5 157.7,290.5 158.9,290.5 158.9,290.5 161.4,290.5 161.4,290.5 163.9,290.5 163.9,290.5 166.3,290.5 166.3,290.4 168.8,290.4 168.8,290.4 171.3,290.4 171.3,290.4 173.8,290.4 173.8,290.4 175.0,290.4 176.3,290.4 176.3,290.3 178.9,290.3 178.9,290.3 181.6,290.3 181.6,290.2 184.2,290.2 184.2,290.1 186.8,290.1 186.8,290.1 189.4,290.1 189.4,290.0 192.1,290.0 192.1,290.0 194.7,290.0 194.7,289.9 196.0,289.9 197.3,289.9 197.3,289.8 199.8,289.8 199.8,289.7 202.3,289.7 202.3,289.6 204.8,289.6 204.8,289.5 206.1,289.5 207.3,289.5 207.3,289.4 209.7,289.4 209.7,289.3 212.1,289.3 212.1,289.1 214.5,289.1 214.5,289.0 216.9,289.0 216.9,288.9 219.3,288.9 219.3,288.8 220.5,288.8 241.6,288.8" fill="none" stroke="#6aae4a" stroke-width="1.4" stroke-linejoin="miter" stroke-linecap="butt"/>
<polyline points="49.0,349.7 58.7,349.7 59.7,349.7 59.7,347.6 61.6,347.6 61.6,345.4 63.5,345.4 63.5,343.3 64.5,343.3 64.9,343.3 64.9,341.5 65.8,341.5 65.8,339.7 66.6,339.7 66.6,337.9 67.4,337.9 67.4,336.1 68.3,336.1 68.3,334.2 69.1,334.2 69.1,332.4 69.9,332.4 69.9,330.6 70.8,330.6 70.8,328.8 71.2,328.8 71.9,328.8 71.9,326.9 73.4,326.9 73.4,325.0 74.8,325.0 74.8,323.1 76.3,323.1 76.3,321.2 77.0,321.2 78.1,321.2 78.1,319.3 80.3,319.3 80.3,317.3 82.6,317.3 82.6,315.4 83.7,315.4 84.8,315.4 84.8,313.8 87.1,313.8 87.1,312.2 89.4,312.2 89.4,310.6 90.5,310.6 91.9,310.6 91.9,308.6 94.8,308.6 94.8,306.7 96.2,306.7 97.7,306.7 97.7,305.2 100.5,305.2 100.5,303.8 102.0,303.8 103.1,303.8 103.1,302.9 105.3,302.9 105.3,301.9 107.6,301.9 107.6,301.0 108.7,301.0 110.0,301.0 110.0,300.6 112.6,300.6 112.6,300.2 115.2,300.2 115.2,299.7 117.7,299.7 117.7,299.3 120.3,299.3 120.3,298.9 121.6,298.9 122.8,298.9 122.8,298.4 125.2,298.4 125.2,297.9 127.7,297.9 127.7,297.4 128.9,297.4 130.3,297.4 130.3,297.3 133.2,297.3 133.2,297.2 136.1,297.2 136.1,297.2 139.0,297.2 139.0,297.1 140.4,297.1 141.5,297.1 141.5,296.6 143.6,296.6 143.6,296.0 144.7,296.0 146.1,296.0 146.1,295.8 149.1,295.8 149.1,295.7 151.9,295.7 151.9,295.5 153.4,295.5 183.7,295.5 183.7,294.8 206.8,294.8 206.8,294.2 241.6,294.2" fill="none" stroke="#33558f" stroke-width="1.4" stroke-linejoin="miter" stroke-linecap="butt"/>
<polyline points="49.0,349.7 57.8,349.7 58.3,349.7 58.3,347.9 59.2,347.9 59.2,346.0 60.2,346.0 60.2,344.2 60.7,344.2 61.3,344.2 61.3,342.6 62.6,342.6 62.6,341.0 63.9,341.0 63.9,339.4 64.5,339.4 65.0,339.4 65.0,337.8 66.0,337.8 66.0,336.2 66.9,336.2 66.9,334.6 67.4,334.6 67.9,334.6 67.9,332.7 68.8,332.7 68.8,330.8 69.3,330.8 69.8,330.8 69.8,329.4 70.7,329.4 70.7,327.9 71.2,327.9 71.9,327.9 71.9,325.9 73.4,325.9 73.4,324.0 74.1,324.0 74.8,324.0 74.8,322.4 76.0,322.4 76.0,320.8 77.3,320.8 77.3,319.2 78.0,319.2 79.2,319.2 79.2,317.8 81.6,317.8 81.6,316.3 82.8,316.3 83.3,316.3 83.3,314.4 84.2,314.4 84.2,312.5 84.7,312.5 86.6,312.5 86.6,310.6 88.5,310.6 89.2,310.6 89.2,309.0 90.5,309.0 90.5,307.4 91.8,307.4 91.8,305.8 92.4,305.8 94.3,305.8 94.3,304.3 96.2,304.3 97.7,304.3 97.7,303.6 100.5,303.6 100.5,302.9 102.0,302.9 107.2,302.9 107.2,302.5 128.1,302.5 128.1,301.9 180.1,301.9 180.1,301.0 212.6,301.0 212.6,300.0 241.6,300.0" fill="none" stroke="#ae1640" stroke-width="1.4" stroke-linejoin="miter" stroke-linecap="butt"/>
<line x1="308.4" y1="222.1" x2="308.4" y2="353.0" stroke="#3d3d3d" stroke-width="1.4"/>
<line x1="307.7" y1="352.3" x2="506.5" y2="352.3" stroke="#3d3d3d" stroke-width="1.5"/>
<line x1="305.4" y1="349.70" x2="308.4" y2="349.70" stroke="#3d3d3d" stroke-width="1.1"/>
<text x="298.95" y="353.1" font-size="9.8" text-anchor="middle" fill="#2a2a2a">0</text>
<line x1="305.4" y1="324.70" x2="308.4" y2="324.70" stroke="#3d3d3d" stroke-width="1.1"/>
<path transform="translate(290.40,328.1) scale(0.005004,-0.004785)" d="M560 0H775V1409H620L240 1170V1040L560 1225Z" fill="#2a2a2a"/>
<text x="298.95" y="328.1" font-size="9.8" text-anchor="middle" fill="#2a2a2a">0</text>
<line x1="305.4" y1="299.70" x2="308.4" y2="299.70" stroke="#3d3d3d" stroke-width="1.1"/>
<text x="293.25" y="303.1" font-size="9.8" text-anchor="middle" fill="#2a2a2a">2</text>
<text x="298.95" y="303.1" font-size="9.8" text-anchor="middle" fill="#2a2a2a">0</text>
<line x1="305.4" y1="274.70" x2="308.4" y2="274.70" stroke="#3d3d3d" stroke-width="1.1"/>
<text x="293.25" y="278.1" font-size="9.8" text-anchor="middle" fill="#2a2a2a">3</text>
<text x="298.95" y="278.1" font-size="9.8" text-anchor="middle" fill="#2a2a2a">0</text>
<line x1="305.4" y1="249.70" x2="308.4" y2="249.70" stroke="#3d3d3d" stroke-width="1.1"/>
<text x="293.25" y="253.1" font-size="9.8" text-anchor="middle" fill="#2a2a2a">4</text>
<text x="298.95" y="253.1" font-size="9.8" text-anchor="middle" fill="#2a2a2a">0</text>
<line x1="305.4" y1="224.70" x2="308.4" y2="224.70" stroke="#3d3d3d" stroke-width="1.1"/>
<text x="293.25" y="228.1" font-size="9.8" text-anchor="middle" fill="#2a2a2a">5</text>
<text x="298.95" y="228.1" font-size="9.8" text-anchor="middle" fill="#2a2a2a">0</text>
<line x1="309.50" y1="352.3" x2="309.50" y2="355.3" stroke="#3d3d3d" stroke-width="1.1"/>
<text x="309.50" y="366.9" font-size="9.8" text-anchor="middle" fill="#2a2a2a">0</text>
<line x1="348.30" y1="352.3" x2="348.30" y2="355.3" stroke="#3d3d3d" stroke-width="1.1"/>
<text x="345.45" y="366.9" font-size="9.8" text-anchor="middle" fill="#2a2a2a">2</text>
<text x="351.15" y="366.9" font-size="9.8" text-anchor="middle" fill="#2a2a2a">0</text>
<line x1="387.10" y1="352.3" x2="387.10" y2="355.3" stroke="#3d3d3d" stroke-width="1.1"/>
<text x="384.25" y="366.9" font-size="9.8" text-anchor="middle" fill="#2a2a2a">4</text>
<text x="389.95" y="366.9" font-size="9.8" text-anchor="middle" fill="#2a2a2a">0</text>
<line x1="425.90" y1="352.3" x2="425.90" y2="355.3" stroke="#3d3d3d" stroke-width="1.1"/>
<text x="423.05" y="366.9" font-size="9.8" text-anchor="middle" fill="#2a2a2a">6</text>
<text x="428.75" y="366.9" font-size="9.8" text-anchor="middle" fill="#2a2a2a">0</text>
<line x1="464.70" y1="352.3" x2="464.70" y2="355.3" stroke="#3d3d3d" stroke-width="1.1"/>
<text x="461.85" y="366.9" font-size="9.8" text-anchor="middle" fill="#2a2a2a">8</text>
<text x="467.55" y="366.9" font-size="9.8" text-anchor="middle" fill="#2a2a2a">0</text>
<line x1="503.50" y1="352.3" x2="503.50" y2="355.3" stroke="#3d3d3d" stroke-width="1.1"/>
<path transform="translate(494.95,366.9) scale(0.005004,-0.004785)" d="M560 0H775V1409H620L240 1170V1040L560 1225Z" fill="#2a2a2a"/>
<text x="503.50" y="366.9" font-size="9.8" text-anchor="middle" fill="#2a2a2a">0</text>
<text x="509.20" y="366.9" font-size="9.8" text-anchor="middle" fill="#2a2a2a">0</text>
<line x1="317.7" y1="226.90" x2="335.09999999999997" y2="226.90" stroke="#6aae4a" stroke-width="1.3"/>
<text x="338.4" y="229.2" font-size="8.3" font-weight="normal" text-anchor="start" fill="#333" textLength="12.9" lengthAdjust="spacingAndGlyphs">GG</text>
<line x1="317.7" y1="238.75" x2="335.09999999999997" y2="238.75" stroke="#33558f" stroke-width="1.3"/>
<text x="338.4" y="241.05" font-size="8.3" font-weight="normal" text-anchor="start" fill="#333" textLength="11.4" lengthAdjust="spacingAndGlyphs">GA</text>
<line x1="317.7" y1="250.60" x2="335.09999999999997" y2="250.60" stroke="#ae1640" stroke-width="1.3"/>
<text x="338.4" y="252.9" font-size="8.3" font-weight="normal" text-anchor="start" fill="#333" textLength="10.6" lengthAdjust="spacingAndGlyphs">AA</text>
<text x="266.6" y="218.7" font-size="12" font-weight="bold" text-anchor="start" fill="#000">D</text>
<text x="375.70" y="381.4" font-size="10.0" fill="#2a2a2a" stroke="#2a2a2a" stroke-width="0.4" textLength="14.10" lengthAdjust="spacingAndGlyphs">Days</text>
<text x="392.45" y="381.4" font-size="10.0" fill="#2a2a2a" stroke="#2a2a2a" stroke-width="0.4" textLength="13.30" lengthAdjust="spacingAndGlyphs">from</text>
<text x="409.00" y="381.4" font-size="10.0" fill="#2a2a2a" stroke="#2a2a2a" stroke-width="0.4" textLength="30.00" lengthAdjust="spacingAndGlyphs">transplant</text>
<text transform="translate(284.6,315.55) rotate(-90)" x="0" y="0" font-size="9.9" fill="#2a2a2a" stroke="#2a2a2a" stroke-width="0.35" textLength="23.00" lengthAdjust="spacingAndGlyphs">Percent</text>
<text transform="translate(284.6,289.65) rotate(-90)" x="0" y="0" font-size="9.9" fill="#2a2a2a" stroke="#2a2a2a" stroke-width="0.35" textLength="17.00" lengthAdjust="spacingAndGlyphs">GVHD</text>
<text transform="translate(284.6,269.35) rotate(-90)" x="0" y="0" font-size="9.9" fill="#2a2a2a" stroke="#2a2a2a" stroke-width="0.35" textLength="3.36" lengthAdjust="spacingAndGlyphs">3</text>
<line x1="282.50" y1="265.79" x2="282.50" y2="262.00" stroke="#2a2a2a" stroke-width="0.9"/>
<text transform="translate(284.6,262.00) rotate(-90)" x="0" y="0" font-size="9.9" fill="#2a2a2a" stroke="#2a2a2a" stroke-width="0.35" textLength="3.15" lengthAdjust="spacingAndGlyphs">4</text>
<polyline points="309.0,349.6 318.9,349.6 320.4,349.6 320.4,346.9 321.9,346.9 322.4,346.9 322.4,345.1 323.4,345.1 323.4,343.4 324.4,343.4 324.4,341.6 325.3,341.6 325.3,339.9 326.3,339.9 326.3,338.1 326.8,338.1 327.1,338.1 327.1,336.3 327.7,336.3 327.7,334.6 328.2,334.6 328.2,332.8 328.8,332.8 328.8,331.1 329.4,331.1 329.4,329.3 329.7,329.3 330.4,329.3 330.4,327.3 331.6,327.3 331.6,325.4 333.0,325.4 333.0,323.4 333.6,323.4 334.4,323.4 334.4,321.8 336.1,321.8 336.1,320.1 337.7,320.1 337.7,318.5 338.5,318.5 339.5,318.5 339.5,316.9 341.4,316.9 341.4,315.2 343.4,315.2 343.4,313.6 344.4,313.6 345.2,313.6 345.2,311.6 346.9,311.6 346.9,309.7 348.5,309.7 348.5,307.7 349.3,307.7 350.5,307.7 350.5,306.0 353.0,306.0 353.0,304.3 354.2,304.3 355.7,304.3 355.7,303.1 358.6,303.1 358.6,301.9 360.1,301.9 361.3,301.9 361.3,300.9 363.8,300.9 363.8,299.9 365.0,299.9 366.9,299.9 366.9,298.0 368.7,298.0 370.0,298.0 370.0,297.6 372.6,297.6 372.6,297.2 375.1,297.2 375.1,296.7 377.7,296.7 377.7,296.3 380.3,296.3 380.3,295.9 381.6,295.9 382.8,295.9 382.8,295.5 385.2,295.5 385.2,295.2 387.6,295.2 387.6,294.8 390.1,294.8 390.1,294.4 392.5,294.4 392.5,294.1 394.9,294.1 394.9,293.7 396.1,293.7 397.3,293.7 397.3,293.6 399.7,293.6 399.7,293.5 402.1,293.5 402.1,293.4 404.5,293.4 404.5,293.2 406.9,293.2 406.9,293.1 409.3,293.1 409.3,293.0 410.5,293.0 411.9,293.0 411.9,292.8 414.6,292.8 414.6,292.7 417.3,292.7 417.3,292.5 420.0,292.5 420.0,292.3 422.8,292.3 422.8,292.2 425.5,292.2 425.5,292.0 428.2,292.0 428.2,291.8 430.9,291.8 430.9,291.7 433.6,291.7 433.6,291.5 435.0,291.5 436.4,291.5 436.4,291.5 439.2,291.5 439.2,291.5 442.0,291.5 442.0,291.4 444.9,291.4 444.9,291.4 447.7,291.4 447.7,291.4 450.5,291.4 450.5,291.4 451.9,291.4 453.1,291.4 453.1,291.3 455.6,291.3 455.6,291.3 458.1,291.3 458.1,291.2 460.6,291.2 460.6,291.1 463.1,291.1 463.1,291.0 465.6,291.0 465.6,291.0 468.1,291.0 468.1,290.9 470.6,290.9 470.6,290.8 473.1,290.8 473.1,290.8 475.6,290.8 475.6,290.7 476.8,290.7 478.1,290.7 478.1,290.7 480.7,290.7 480.7,290.7 483.4,290.7 483.4,290.6 486.0,290.6 486.0,290.6 488.6,290.6 488.6,290.6 491.3,290.6 491.3,290.6 493.9,290.6 493.9,290.6 496.5,290.6 496.5,290.5 499.2,290.5 499.2,290.5 501.8,290.5 501.8,290.5 503.1,290.5" fill="none" stroke="#6aae4a" stroke-width="1.4" stroke-linejoin="miter" stroke-linecap="butt"/>
<polyline points="309.0,349.6 318.9,349.6 320.4,349.6 320.4,348.4 321.9,348.4 322.5,348.4 322.5,346.5 323.7,346.5 323.7,344.7 325.0,344.7 325.0,342.9 326.2,342.9 326.2,341.0 326.8,341.0 327.2,341.0 327.2,339.2 328.0,339.2 328.0,337.5 328.8,337.5 328.8,335.7 329.5,335.7 329.5,334.0 330.3,334.0 330.3,332.2 330.7,332.2 331.4,332.2 331.4,330.2 332.6,330.2 332.6,328.3 334.0,328.3 334.0,326.3 334.6,326.3 335.4,326.3 335.4,324.7 337.1,324.7 337.1,323.0 338.7,323.0 338.7,321.4 339.5,321.4 341.0,321.4 341.0,319.2 343.9,319.2 343.9,317.0 345.4,317.0 346.5,317.0 346.5,314.9 348.8,314.9 348.8,312.8 351.1,312.8 351.1,310.7 352.2,310.7 353.4,310.7 353.4,308.8 355.9,308.8 355.9,306.8 357.1,306.8 358.3,306.8 358.3,305.3 360.8,305.3 360.8,303.8 362.0,303.8 363.5,303.8 363.5,302.3 365.0,302.3 366.9,302.3 366.9,301.4 368.7,301.4 370.0,301.4 370.0,300.9 372.6,300.9 372.6,300.4 375.1,300.4 375.1,299.8 377.7,299.8 377.7,299.3 380.3,299.3 380.3,298.8 381.6,298.8 382.8,298.8 382.8,298.7 385.2,298.7 385.2,298.5 387.6,298.5 387.6,298.4 390.1,298.4 390.1,298.3 392.5,298.3 392.5,298.1 394.9,298.1 394.9,298.0 396.1,298.0 397.3,298.0 397.3,297.8 399.7,297.8 399.7,297.5 402.1,297.5 402.1,297.3 403.3,297.3 404.6,297.3 404.6,296.9 407.1,296.9 407.1,296.6 409.6,296.6 409.6,296.2 412.1,296.2 412.1,295.8 413.4,295.8 444.6,295.8 444.6,295.1 497.3,295.1 497.3,294.6 503.1,294.6" fill="none" stroke="#33558f" stroke-width="1.4" stroke-linejoin="miter" stroke-linecap="butt"/>
<polyline points="309.0,349.6 318.9,349.6 319.4,349.6 319.4,347.3 320.4,347.3 320.4,345.0 320.9,345.0 321.6,345.0 321.6,343.5 323.1,343.5 323.1,342.0 323.8,342.0 324.3,342.0 324.3,340.1 325.3,340.1 325.3,338.1 325.8,338.1 326.0,338.1 326.0,336.5 326.5,336.5 326.5,334.8 327.0,334.8 327.0,333.2 327.2,333.2 327.4,333.2 327.4,331.2 327.9,331.2 327.9,329.3 328.4,329.3 328.4,327.3 328.7,327.3 329.2,327.3 329.2,325.4 330.2,325.4 330.2,323.4 330.7,323.4 332.1,323.4 332.1,321.4 333.6,321.4 333.9,321.4 333.9,319.6 334.6,319.6 334.6,317.9 335.3,317.9 335.3,316.1 335.6,316.1 336.3,316.1 336.3,314.4 337.8,314.4 337.8,312.6 338.5,312.6 339.7,312.6 339.7,311.9 342.2,311.9 342.2,311.2 343.4,311.2 343.6,311.2 343.6,309.0 344.1,309.0 344.1,306.8 344.4,306.8 345.4,306.8 345.4,306.1 347.3,306.1 347.3,305.3 348.3,305.3 348.8,305.3 348.8,303.6 349.8,303.6 349.8,301.9 350.3,301.9 351.8,301.9 351.8,299.4 353.2,299.4 354.7,299.4 354.7,298.2 357.6,298.2 357.6,297.0 359.1,297.0 360.6,297.0 360.6,296.9 363.5,296.9 363.5,296.8 365.0,296.8 366.2,296.8 366.2,296.7 368.7,296.7 368.7,296.5 371.2,296.5 371.2,296.4 373.7,296.4 373.7,296.3 376.2,296.3 376.2,296.1 378.7,296.1 378.7,296.0 381.2,296.0 381.2,295.9 383.7,295.9 383.7,295.7 386.2,295.7 386.2,295.6 387.4,295.6 387.4,294.4 388.8,294.4 388.8,294.4 391.5,294.4 391.5,294.4 394.2,294.4 394.2,294.4 397.0,294.4 397.0,294.4 399.7,294.4 399.7,294.3 402.4,294.3 402.4,294.3 405.2,294.3 405.2,294.3 407.9,294.3 407.9,294.3 410.6,294.3 410.6,294.3 412.0,294.3 441.0,294.3 441.0,293.2 466.5,293.2 466.5,292.1 486.3,292.1 486.3,291.0 503.1,291.0" fill="none" stroke="#ae1640" stroke-width="1.4" stroke-linejoin="miter" stroke-linecap="butt"/>
<line x1="48.4" y1="414.8" x2="48.4" y2="543.6" stroke="#3d3d3d" stroke-width="1.4"/>
<line x1="47.699999999999996" y1="542.9" x2="246.5" y2="542.9" stroke="#3d3d3d" stroke-width="1.5"/>
<line x1="45.4" y1="540.40" x2="48.4" y2="540.40" stroke="#3d3d3d" stroke-width="1.1"/>
<text x="38.95" y="543.8" font-size="9.8" text-anchor="middle" fill="#2a2a2a">0</text>
<line x1="45.4" y1="515.80" x2="48.4" y2="515.80" stroke="#3d3d3d" stroke-width="1.1"/>
<path transform="translate(30.40,519.2) scale(0.005004,-0.004785)" d="M560 0H775V1409H620L240 1170V1040L560 1225Z" fill="#2a2a2a"/>
<text x="38.95" y="519.2" font-size="9.8" text-anchor="middle" fill="#2a2a2a">0</text>
<line x1="45.4" y1="491.20" x2="48.4" y2="491.20" stroke="#3d3d3d" stroke-width="1.1"/>
<text x="33.25" y="494.6" font-size="9.8" text-anchor="middle" fill="#2a2a2a">2</text>
<text x="38.95" y="494.6" font-size="9.8" text-anchor="middle" fill="#2a2a2a">0</text>
<line x1="45.4" y1="466.60" x2="48.4" y2="466.60" stroke="#3d3d3d" stroke-width="1.1"/>
<text x="33.25" y="470.0" font-size="9.8" text-anchor="middle" fill="#2a2a2a">3</text>
<text x="38.95" y="470.0" font-size="9.8" text-anchor="middle" fill="#2a2a2a">0</text>
<line x1="45.4" y1="442.00" x2="48.4" y2="442.00" stroke="#3d3d3d" stroke-width="1.1"/>
<text x="33.25" y="445.4" font-size="9.8" text-anchor="middle" fill="#2a2a2a">4</text>
<text x="38.95" y="445.4" font-size="9.8" text-anchor="middle" fill="#2a2a2a">0</text>
<line x1="45.4" y1="417.40" x2="48.4" y2="417.40" stroke="#3d3d3d" stroke-width="1.1"/>
<text x="33.25" y="420.8" font-size="9.8" text-anchor="middle" fill="#2a2a2a">5</text>
<text x="38.95" y="420.8" font-size="9.8" text-anchor="middle" fill="#2a2a2a">0</text>
<line x1="49.50" y1="542.9" x2="49.50" y2="545.9" stroke="#3d3d3d" stroke-width="1.1"/>
<text x="49.50" y="557.6" font-size="9.8" text-anchor="middle" fill="#2a2a2a">0</text>
<line x1="65.67" y1="542.9" x2="65.67" y2="545.9" stroke="#3d3d3d" stroke-width="1.1"/>
<path transform="translate(62.82,557.6) scale(0.005004,-0.004785)" d="M560 0H775V1409H620L240 1170V1040L560 1225Z" fill="#2a2a2a"/>
<line x1="81.83" y1="542.9" x2="81.83" y2="545.9" stroke="#3d3d3d" stroke-width="1.1"/>
<text x="81.83" y="557.6" font-size="9.8" text-anchor="middle" fill="#2a2a2a">2</text>
<line x1="98.00" y1="542.9" x2="98.00" y2="545.9" stroke="#3d3d3d" stroke-width="1.1"/>
<text x="98.00" y="557.6" font-size="9.8" text-anchor="middle" fill="#2a2a2a">3</text>
<line x1="114.17" y1="542.9" x2="114.17" y2="545.9" stroke="#3d3d3d" stroke-width="1.1"/>
<text x="114.17" y="557.6" font-size="9.8" text-anchor="middle" fill="#2a2a2a">4</text>
<line x1="130.33" y1="542.9" x2="130.33" y2="545.9" stroke="#3d3d3d" stroke-width="1.1"/>
<text x="130.33" y="557.6" font-size="9.8" text-anchor="middle" fill="#2a2a2a">5</text>
<line x1="146.50" y1="542.9" x2="146.50" y2="545.9" stroke="#3d3d3d" stroke-width="1.1"/>
<text x="146.50" y="557.6" font-size="9.8" text-anchor="middle" fill="#2a2a2a">6</text>
<line x1="162.67" y1="542.9" x2="162.67" y2="545.9" stroke="#3d3d3d" stroke-width="1.1"/>
<text x="162.67" y="557.6" font-size="9.8" text-anchor="middle" fill="#2a2a2a">7</text>
<line x1="178.83" y1="542.9" x2="178.83" y2="545.9" stroke="#3d3d3d" stroke-width="1.1"/>
<text x="178.83" y="557.6" font-size="9.8" text-anchor="middle" fill="#2a2a2a">8</text>
<line x1="195.00" y1="542.9" x2="195.00" y2="545.9" stroke="#3d3d3d" stroke-width="1.1"/>
<text x="195.00" y="557.6" font-size="9.8" text-anchor="middle" fill="#2a2a2a">9</text>
<line x1="211.17" y1="542.9" x2="211.17" y2="545.9" stroke="#3d3d3d" stroke-width="1.1"/>
<path transform="translate(205.47,557.6) scale(0.005004,-0.004785)" d="M560 0H775V1409H620L240 1170V1040L560 1225Z" fill="#2a2a2a"/>
<text x="214.02" y="557.6" font-size="9.8" text-anchor="middle" fill="#2a2a2a">0</text>
<line x1="227.33" y1="542.9" x2="227.33" y2="545.9" stroke="#3d3d3d" stroke-width="1.1"/>
<path transform="translate(221.63,557.6) scale(0.005004,-0.004785)" d="M560 0H775V1409H620L240 1170V1040L560 1225Z" fill="#2a2a2a"/>
<path transform="translate(227.33,557.6) scale(0.005004,-0.004785)" d="M560 0H775V1409H620L240 1170V1040L560 1225Z" fill="#2a2a2a"/>
<line x1="243.50" y1="542.9" x2="243.50" y2="545.9" stroke="#3d3d3d" stroke-width="1.1"/>
<path transform="translate(237.80,557.6) scale(0.005004,-0.004785)" d="M560 0H775V1409H620L240 1170V1040L560 1225Z" fill="#2a2a2a"/>
<text x="246.35" y="557.6" font-size="9.8" text-anchor="middle" fill="#2a2a2a">2</text>
<line x1="57.7" y1="418.70" x2="75.1" y2="418.70" stroke="#6aae4a" stroke-width="1.3"/>
<text x="78.4" y="421.0" font-size="8.3" font-weight="normal" text-anchor="start" fill="#333" textLength="12.9" lengthAdjust="spacingAndGlyphs">GG</text>
<line x1="57.7" y1="430.55" x2="75.1" y2="430.55" stroke="#33558f" stroke-width="1.3"/>
<text x="78.4" y="432.85" font-size="8.3" font-weight="normal" text-anchor="start" fill="#333" textLength="11.4" lengthAdjust="spacingAndGlyphs">GA</text>
<line x1="57.7" y1="442.40" x2="75.1" y2="442.40" stroke="#ae1640" stroke-width="1.3"/>
<text x="78.4" y="444.7" font-size="8.3" font-weight="normal" text-anchor="start" fill="#333" textLength="10.6" lengthAdjust="spacingAndGlyphs">AA</text>
<text x="7.6" y="410.0" font-size="12" font-weight="bold" text-anchor="start" fill="#000">E</text>
<text x="111.10" y="571.8" font-size="10.0" fill="#2a2a2a" stroke="#2a2a2a" stroke-width="0.4" textLength="22.00" lengthAdjust="spacingAndGlyphs">Months</text>
<text x="135.35" y="571.8" font-size="10.0" fill="#2a2a2a" stroke="#2a2a2a" stroke-width="0.4" textLength="13.30" lengthAdjust="spacingAndGlyphs">from</text>
<text x="152.80" y="571.8" font-size="10.0" fill="#2a2a2a" stroke="#2a2a2a" stroke-width="0.4" textLength="16.20" lengthAdjust="spacingAndGlyphs">GVHD</text>
<text x="172.40" y="571.8" font-size="10.0" fill="#2a2a2a" stroke="#2a2a2a" stroke-width="0.4" textLength="3.47" lengthAdjust="spacingAndGlyphs">3</text>
<line x1="176.07" y1="569.70" x2="179.68" y2="569.70" stroke="#2a2a2a" stroke-width="0.9"/>
<text x="179.68" y="571.8" font-size="10.0" fill="#2a2a2a" stroke="#2a2a2a" stroke-width="0.4" textLength="3.92" lengthAdjust="spacingAndGlyphs">4</text>
<text transform="translate(24.6,498.65) rotate(-90)" x="0" y="0" font-size="9.9" fill="#2a2a2a" stroke="#2a2a2a" stroke-width="0.35" textLength="22.90" lengthAdjust="spacingAndGlyphs">Percent</text>
<text transform="translate(24.6,473.65) rotate(-90)" x="0" y="0" font-size="9.9" fill="#2a2a2a" stroke="#2a2a2a" stroke-width="0.35" textLength="15.00" lengthAdjust="spacingAndGlyphs">NRM</text>
<polyline points="49.5,540.4 50.2,540.4 50.2,538.6 51.7,538.6 51.7,536.8 53.1,536.8 53.1,535.0 54.5,535.0 54.5,533.2 56.0,533.2 56.0,531.4 56.7,531.4 57.1,531.4 57.1,529.2 57.9,529.2 57.9,527.1 58.7,527.1 58.7,524.9 59.1,524.9 59.4,524.9 59.4,523.0 59.9,523.0 59.9,521.0 60.4,521.0 60.4,519.1 60.9,519.1 60.9,517.1 61.4,517.1 61.4,515.2 61.6,515.2 61.9,515.2 61.9,513.2 62.5,513.2 62.5,511.2 63.1,511.2 63.1,509.1 63.7,509.1 63.7,507.1 64.0,507.1 64.3,507.1 64.3,505.3 64.9,505.3 64.9,503.5 65.5,503.5 65.5,501.7 66.1,501.7 66.1,499.9 66.4,499.9 66.8,499.9 66.8,498.3 67.6,498.3 67.6,496.6 68.4,496.6 68.4,495.0 68.8,495.0 69.2,495.0 69.2,492.8 70.2,492.8 70.2,490.6 71.0,490.6 71.0,488.4 71.5,488.4 72.0,488.4 72.0,486.6 72.9,486.6 72.9,484.7 73.8,484.7 73.8,482.9 74.7,482.9 74.7,481.0 75.6,481.0 75.6,479.2 76.1,479.2 76.7,479.2 76.7,477.5 77.9,477.5 77.9,475.8 79.0,475.8 79.0,474.0 80.2,474.0 80.2,472.3 80.8,472.3 81.2,472.3 81.2,470.6 82.1,470.6 82.1,468.9 82.9,468.9 82.9,467.1 83.8,467.1 83.8,465.4 84.2,465.4 84.8,465.4 84.8,463.5 86.1,463.5 86.1,461.6 86.7,461.6 87.7,461.6 87.7,459.7 89.6,459.7 89.6,457.8 91.5,457.8 91.5,455.8 93.4,455.8 93.4,453.9 94.4,453.9 95.5,453.9 95.5,452.3 97.8,452.3 97.8,450.7 100.1,450.7 100.1,449.1 101.2,449.1 102.5,449.1 102.5,447.8 105.0,447.8 105.0,446.6 107.5,446.6 107.5,445.3 108.8,445.3 110.0,445.3 110.0,443.6 112.5,443.6 112.5,441.9 113.7,441.9 115.0,441.9 115.0,439.8 117.5,439.8 117.5,437.8 120.0,437.8 120.0,435.7 121.3,435.7 122.8,435.7 122.8,434.2 125.7,434.2 125.7,432.8 128.6,432.8 128.6,431.3 130.0,431.3 131.3,431.3 131.3,430.5 134.0,430.5 134.0,429.8 136.6,429.8 136.6,429.0 139.3,429.0 139.3,428.2 140.6,428.2 141.8,428.2 141.8,427.4 144.1,427.4 144.1,426.5 146.5,426.5 146.5,425.6 148.8,425.6 148.8,424.8 150.0,424.8 151.3,424.8 151.3,423.8 154.1,423.8 154.1,422.8 155.4,422.8 156.8,422.8 156.8,421.9 159.4,421.9 159.4,421.0 162.2,421.0 162.2,420.1 163.5,420.1 164.8,420.1 164.8,419.6 167.5,419.6 167.5,419.2 170.2,419.2 170.2,418.7 171.5,418.7 172.5,418.7 172.5,418.2 174.6,418.2 174.6,417.8 175.6,417.8" fill="none" stroke="#6aae4a" stroke-width="1.4" stroke-linejoin="miter" stroke-linecap="butt"/>
<polyline points="49.5,540.4 50.3,540.4 50.3,538.6 51.9,538.6 51.9,536.8 53.5,536.8 53.5,535.0 54.3,535.0 55.1,535.0 55.1,532.8 56.7,532.8 56.7,530.6 57.5,530.6 58.0,530.6 58.0,528.4 59.1,528.4 59.1,526.3 60.2,526.3 60.2,524.1 60.7,524.1 61.5,524.1 61.5,521.9 63.1,521.9 63.1,519.8 64.8,519.8 64.8,517.6 65.6,517.6 66.0,517.6 66.0,515.5 66.8,515.5 66.8,513.3 67.6,513.3 67.6,511.2 68.0,511.2 68.4,511.2 68.4,509.2 69.2,509.2 69.2,507.1 70.1,507.1 70.1,505.1 70.9,505.1 70.9,503.1 71.3,503.1 71.8,503.1 71.8,500.9 72.9,500.9 72.9,498.8 74.0,498.8 74.0,496.6 74.5,496.6 75.7,496.6 75.7,495.0 76.9,495.0 77.1,495.0 77.1,494.2 77.3,494.2 77.7,494.2 77.7,492.2 78.6,492.2 78.6,490.1 79.5,490.1 79.5,488.1 80.4,488.1 80.4,486.1 80.8,486.1 81.4,486.1 81.4,484.2 82.5,484.2 82.5,482.3 83.6,482.3 83.6,480.4 84.2,480.4 85.0,480.4 85.0,478.5 86.5,478.5 86.5,476.5 88.0,476.5 88.0,474.6 88.8,474.6 89.5,474.6 89.5,472.3 90.8,472.3 90.8,470.0 91.5,470.0 92.2,470.0 92.2,468.0 93.5,468.0 93.5,466.0 94.8,466.0 94.8,464.0 95.4,464.0 96.7,464.0 96.7,462.4 99.2,462.4 99.2,460.8 101.8,460.8 101.8,459.2 103.1,459.2 104.5,459.2 104.5,458.2 107.4,458.2 107.4,457.3 108.8,457.3 109.9,457.3 109.9,455.9 112.2,455.9 112.2,454.4 114.5,454.4 114.5,453.0 115.6,453.0 117.0,453.0 117.0,452.8 119.9,452.8 119.9,452.5 121.3,452.5 122.3,452.5 122.3,450.6 124.2,450.6 124.2,448.7 125.2,448.7 126.4,448.7 126.4,447.2 128.8,447.2 128.8,445.8 130.0,445.8 131.3,445.8 131.3,444.4 133.9,444.4 133.9,443.0 135.2,443.0 136.5,443.0 136.5,442.3 139.2,442.3 139.2,441.6 140.6,441.6 146.0,441.6 147.2,441.6 147.2,440.0 149.5,440.0 149.5,438.3 150.7,438.3 152.2,438.3 152.2,438.0 155.2,438.0 155.2,437.6 156.7,437.6 157.8,437.6 157.8,437.1 160.1,437.1 160.1,436.7 162.4,436.7 162.4,436.2 163.5,436.2 164.8,436.2 164.8,435.5 167.5,435.5 167.5,434.9 170.2,434.9 170.2,434.2 171.5,434.2 172.6,434.2 172.6,433.5 174.9,433.5 174.9,432.9 177.2,432.9 177.2,432.2 178.3,432.2 179.5,432.2 179.5,432.0 181.8,432.0 181.8,431.8 184.1,431.8 184.1,431.5 186.3,431.5 186.3,431.3 187.5,431.3 188.8,431.3 188.8,430.9 191.2,430.9 191.2,430.4 193.8,430.4 193.8,430.0 195.0,430.0 196.2,430.0 196.2,429.7 198.8,429.7 198.8,429.3 201.2,429.3 201.2,429.0 202.5,429.0 203.8,429.0 203.8,429.0 206.5,429.0 206.5,428.9 209.2,428.9 209.2,428.9 211.9,428.9 211.9,428.9 214.6,428.9 214.6,428.9 217.3,428.9 217.3,428.8 220.0,428.8 220.0,428.8 221.3,428.8 222.9,428.8 222.9,428.4 225.9,428.4 225.9,427.9 227.5,427.9 228.8,427.9 228.8,427.8 231.5,427.8 231.5,427.8 234.2,427.8 234.2,427.7 236.8,427.7 236.8,427.6 239.5,427.6 239.5,427.6 242.2,427.6 242.2,427.5 243.5,427.5" fill="none" stroke="#33558f" stroke-width="1.4" stroke-linejoin="miter" stroke-linecap="butt"/>
<polyline points="49.5,540.4 50.2,540.4 50.2,537.0 57.5,537.0 57.5,532.2 59.1,532.2 59.1,525.7 60.3,525.7 60.3,516.4 62.8,516.4 62.8,508.7 64.4,508.7 64.4,500.7 68.8,500.7 68.8,495.8 70.0,495.8 70.0,491.5 71.0,491.5 71.0,488.4 73.3,488.4 73.3,484.3 74.0,484.3 74.0,480.2 76.4,480.2 76.4,477.0 81.0,477.0 81.0,472.9 107.3,472.9 107.3,468.3 118.0,468.3 118.0,464.5 124.7,464.5 124.7,460.1 129.1,460.1 129.1,456.4 155.1,456.4 155.1,452.1 160.5,452.1 160.5,448.3 184.8,448.3 184.8,444.4 192.3,444.4 192.3,440.3 243.3,440.3 243.3,440.3" fill="none" stroke="#ae1640" stroke-width="1.4" stroke-linejoin="miter" stroke-linecap="butt"/>
<line x1="308.3" y1="412.3" x2="308.3" y2="543.6" stroke="#3d3d3d" stroke-width="1.4"/>
<line x1="307.6" y1="542.9" x2="509.6" y2="542.9" stroke="#3d3d3d" stroke-width="1.5"/>
<line x1="305.3" y1="540.30" x2="308.3" y2="540.30" stroke="#3d3d3d" stroke-width="1.1"/>
<text x="298.85" y="543.7" font-size="9.8" text-anchor="middle" fill="#2a2a2a">0</text>
<line x1="305.3" y1="515.40" x2="308.3" y2="515.40" stroke="#3d3d3d" stroke-width="1.1"/>
<path transform="translate(290.30,518.8) scale(0.005004,-0.004785)" d="M560 0H775V1409H620L240 1170V1040L560 1225Z" fill="#2a2a2a"/>
<text x="298.85" y="518.8" font-size="9.8" text-anchor="middle" fill="#2a2a2a">0</text>
<line x1="305.3" y1="490.50" x2="308.3" y2="490.50" stroke="#3d3d3d" stroke-width="1.1"/>
<text x="293.15" y="493.9" font-size="9.8" text-anchor="middle" fill="#2a2a2a">2</text>
<text x="298.85" y="493.9" font-size="9.8" text-anchor="middle" fill="#2a2a2a">0</text>
<line x1="305.3" y1="465.60" x2="308.3" y2="465.60" stroke="#3d3d3d" stroke-width="1.1"/>
<text x="293.15" y="469.0" font-size="9.8" text-anchor="middle" fill="#2a2a2a">3</text>
<text x="298.85" y="469.0" font-size="9.8" text-anchor="middle" fill="#2a2a2a">0</text>
<line x1="305.3" y1="440.70" x2="308.3" y2="440.70" stroke="#3d3d3d" stroke-width="1.1"/>
<text x="293.15" y="444.1" font-size="9.8" text-anchor="middle" fill="#2a2a2a">4</text>
<text x="298.85" y="444.1" font-size="9.8" text-anchor="middle" fill="#2a2a2a">0</text>
<line x1="305.3" y1="415.80" x2="308.3" y2="415.80" stroke="#3d3d3d" stroke-width="1.1"/>
<text x="293.15" y="419.2" font-size="9.8" text-anchor="middle" fill="#2a2a2a">5</text>
<text x="298.85" y="419.2" font-size="9.8" text-anchor="middle" fill="#2a2a2a">0</text>
<line x1="309.50" y1="542.9" x2="309.50" y2="545.9" stroke="#3d3d3d" stroke-width="1.1"/>
<text x="309.50" y="557.5" font-size="9.8" text-anchor="middle" fill="#2a2a2a">0</text>
<line x1="325.90" y1="542.9" x2="325.90" y2="545.9" stroke="#3d3d3d" stroke-width="1.1"/>
<path transform="translate(323.05,557.5) scale(0.005004,-0.004785)" d="M560 0H775V1409H620L240 1170V1040L560 1225Z" fill="#2a2a2a"/>
<line x1="342.30" y1="542.9" x2="342.30" y2="545.9" stroke="#3d3d3d" stroke-width="1.1"/>
<text x="342.30" y="557.5" font-size="9.8" text-anchor="middle" fill="#2a2a2a">2</text>
<line x1="358.70" y1="542.9" x2="358.70" y2="545.9" stroke="#3d3d3d" stroke-width="1.1"/>
<text x="358.70" y="557.5" font-size="9.8" text-anchor="middle" fill="#2a2a2a">3</text>
<line x1="375.10" y1="542.9" x2="375.10" y2="545.9" stroke="#3d3d3d" stroke-width="1.1"/>
<text x="375.10" y="557.5" font-size="9.8" text-anchor="middle" fill="#2a2a2a">4</text>
<line x1="391.50" y1="542.9" x2="391.50" y2="545.9" stroke="#3d3d3d" stroke-width="1.1"/>
<text x="391.50" y="557.5" font-size="9.8" text-anchor="middle" fill="#2a2a2a">5</text>
<line x1="407.90" y1="542.9" x2="407.90" y2="545.9" stroke="#3d3d3d" stroke-width="1.1"/>
<text x="407.90" y="557.5" font-size="9.8" text-anchor="middle" fill="#2a2a2a">6</text>
<line x1="424.30" y1="542.9" x2="424.30" y2="545.9" stroke="#3d3d3d" stroke-width="1.1"/>
<text x="424.30" y="557.5" font-size="9.8" text-anchor="middle" fill="#2a2a2a">7</text>
<line x1="440.70" y1="542.9" x2="440.70" y2="545.9" stroke="#3d3d3d" stroke-width="1.1"/>
<text x="440.70" y="557.5" font-size="9.8" text-anchor="middle" fill="#2a2a2a">8</text>
<line x1="457.10" y1="542.9" x2="457.10" y2="545.9" stroke="#3d3d3d" stroke-width="1.1"/>
<text x="457.10" y="557.5" font-size="9.8" text-anchor="middle" fill="#2a2a2a">9</text>
<line x1="473.50" y1="542.9" x2="473.50" y2="545.9" stroke="#3d3d3d" stroke-width="1.1"/>
<path transform="translate(467.80,557.5) scale(0.005004,-0.004785)" d="M560 0H775V1409H620L240 1170V1040L560 1225Z" fill="#2a2a2a"/>
<text x="476.35" y="557.5" font-size="9.8" text-anchor="middle" fill="#2a2a2a">0</text>
<line x1="489.90" y1="542.9" x2="489.90" y2="545.9" stroke="#3d3d3d" stroke-width="1.1"/>
<path transform="translate(484.20,557.5) scale(0.005004,-0.004785)" d="M560 0H775V1409H620L240 1170V1040L560 1225Z" fill="#2a2a2a"/>
<path transform="translate(489.90,557.5) scale(0.005004,-0.004785)" d="M560 0H775V1409H620L240 1170V1040L560 1225Z" fill="#2a2a2a"/>
<line x1="506.30" y1="542.9" x2="506.30" y2="545.9" stroke="#3d3d3d" stroke-width="1.1"/>
<path transform="translate(500.60,557.5) scale(0.005004,-0.004785)" d="M560 0H775V1409H620L240 1170V1040L560 1225Z" fill="#2a2a2a"/>
<text x="509.15" y="557.5" font-size="9.8" text-anchor="middle" fill="#2a2a2a">2</text>
<line x1="317.6" y1="418.70" x2="335.0" y2="418.70" stroke="#6aae4a" stroke-width="1.3"/>
<text x="338.3" y="421.0" font-size="8.3" font-weight="normal" text-anchor="start" fill="#333" textLength="12.9" lengthAdjust="spacingAndGlyphs">GG</text>
<line x1="317.6" y1="430.55" x2="335.0" y2="430.55" stroke="#33558f" stroke-width="1.3"/>
<text x="338.3" y="432.85" font-size="8.3" font-weight="normal" text-anchor="start" fill="#333" textLength="11.4" lengthAdjust="spacingAndGlyphs">GA</text>
<line x1="317.6" y1="442.40" x2="335.0" y2="442.40" stroke="#ae1640" stroke-width="1.3"/>
<text x="338.3" y="444.7" font-size="8.3" font-weight="normal" text-anchor="start" fill="#333" textLength="10.6" lengthAdjust="spacingAndGlyphs">AA</text>
<text x="266.6" y="410.0" font-size="12" font-weight="bold" text-anchor="start" fill="#000">F</text>
<text x="372.60" y="571.8" font-size="10.0" fill="#2a2a2a" stroke="#2a2a2a" stroke-width="0.4" textLength="22.00" lengthAdjust="spacingAndGlyphs">Months</text>
<text x="396.85" y="571.8" font-size="10.0" fill="#2a2a2a" stroke="#2a2a2a" stroke-width="0.4" textLength="13.30" lengthAdjust="spacingAndGlyphs">from</text>
<text x="414.30" y="571.8" font-size="10.0" fill="#2a2a2a" stroke="#2a2a2a" stroke-width="0.4" textLength="16.20" lengthAdjust="spacingAndGlyphs">GVHD</text>
<text x="433.90" y="571.8" font-size="10.0" fill="#2a2a2a" stroke="#2a2a2a" stroke-width="0.4" textLength="3.47" lengthAdjust="spacingAndGlyphs">3</text>
<line x1="437.57" y1="569.70" x2="441.18" y2="569.70" stroke="#2a2a2a" stroke-width="0.9"/>
<text x="441.18" y="571.8" font-size="10.0" fill="#2a2a2a" stroke="#2a2a2a" stroke-width="0.4" textLength="3.92" lengthAdjust="spacingAndGlyphs">4</text>
<text transform="translate(284.6,497.40) rotate(-90)" x="0" y="0" font-size="9.9" fill="#2a2a2a" stroke="#2a2a2a" stroke-width="0.35" textLength="22.90" lengthAdjust="spacingAndGlyphs">Percent</text>
<text transform="translate(284.6,472.40) rotate(-90)" x="0" y="0" font-size="9.9" fill="#2a2a2a" stroke="#2a2a2a" stroke-width="0.35" textLength="15.00" lengthAdjust="spacingAndGlyphs">NRM</text>
<polyline points="309.5,540.4 310.4,540.4 310.4,538.2 312.3,538.2 312.3,536.0 314.2,536.0 314.2,533.8 315.1,533.8 315.8,533.8 315.8,531.6 317.1,531.6 317.1,529.5 318.4,529.5 318.4,527.3 319.1,527.3 319.4,527.3 319.4,525.5 320.0,525.5 320.0,523.6 320.6,523.6 320.6,521.8 321.2,521.8 321.2,520.0 321.5,520.0 321.7,520.0 321.7,517.9 322.1,517.9 322.1,515.7 322.6,515.7 322.6,513.6 322.8,513.6 323.3,513.6 323.3,511.7 324.2,511.7 324.2,509.8 325.1,509.8 325.1,507.9 325.6,507.9 325.7,507.9 325.7,506.3 326.0,506.3 326.0,504.7 326.3,504.7 326.3,503.1 326.4,503.1 327.0,503.1 327.0,501.5 328.2,501.5 328.2,499.8 328.8,499.8 329.1,499.8 329.1,498.1 329.6,498.1 329.6,496.5 330.1,496.5 330.1,494.8 330.6,494.8 330.6,493.1 330.8,493.1 331.2,493.1 331.2,491.2 331.9,491.2 331.9,489.3 332.7,489.3 332.7,487.3 333.5,487.3 333.5,485.4 334.2,485.4 334.2,483.5 334.6,483.5 335.2,483.5 335.2,481.8 336.4,481.8 336.4,480.1 337.6,480.1 337.6,478.4 338.8,478.4 338.8,476.7 339.4,476.7 340.0,476.7 340.0,475.0 341.2,475.0 341.2,473.4 342.4,473.4 342.4,471.7 343.6,471.7 343.6,470.0 344.2,470.0 344.9,470.0 344.9,467.9 346.1,467.9 346.1,465.9 347.5,465.9 347.5,463.8 348.1,463.8 349.1,463.8 349.1,462.0 351.0,462.0 351.0,460.3 352.9,460.3 352.9,458.5 353.8,458.5 354.6,458.5 354.6,456.7 356.2,456.7 356.2,455.0 357.9,455.0 357.9,453.2 358.7,453.2 359.9,453.2 359.9,452.2 362.3,452.2 362.3,451.3 363.5,451.3 364.7,451.3 364.7,450.3 367.1,450.3 367.1,449.3 368.3,449.3 369.5,449.3 369.5,447.6 371.9,447.6 371.9,446.0 373.1,446.0 374.2,446.0 374.2,445.0 376.4,445.0 376.4,444.0 377.5,444.0 378.6,444.0 378.6,442.3 380.8,442.3 380.8,440.5 382.9,440.5 382.9,438.8 384.0,438.8 385.3,438.8 385.3,437.1 387.9,437.1 387.9,435.4 390.4,435.4 390.4,433.7 391.7,433.7 392.7,433.7 392.7,432.8 394.8,432.8 394.8,431.9 395.8,431.9 396.9,431.9 396.9,431.4 399.2,431.4 399.2,431.0 401.6,431.0 401.6,430.5 402.7,430.5 404.1,430.5 404.1,428.3 407.1,428.3 407.1,426.1 408.5,426.1 409.9,426.1 409.9,425.5 412.8,425.5 412.8,424.8 414.2,424.8 415.9,424.8 415.9,422.1 417.7,422.1 418.9,422.1 418.9,421.7 421.1,421.7 421.1,421.4 423.5,421.4 423.5,421.0 424.6,421.0 425.8,421.0 425.8,420.6 428.1,420.6 428.1,420.2 430.4,420.2 430.4,419.9 432.7,419.9 432.7,419.5 433.8,419.5 435.2,419.5 435.2,419.3 438.1,419.3 438.1,419.1 441.1,419.1 441.1,418.9 443.9,418.9 443.9,418.7 445.4,418.7 446.5,418.7 446.5,418.1 448.9,418.1 448.9,417.5 450.0,417.5 451.9,417.5 451.9,416.5 453.8,416.5 454.9,416.5 454.9,416.2 457.0,416.2 457.0,416.0 458.1,416.0" fill="none" stroke="#6aae4a" stroke-width="1.4" stroke-linejoin="miter" stroke-linecap="butt"/>
<polyline points="309.5,540.4 310.7,540.4 310.7,538.5 313.1,538.5 313.1,536.6 314.3,536.6 314.6,536.6 314.6,534.8 315.3,534.8 315.3,533.0 316.0,533.0 316.0,531.2 316.6,531.2 316.6,529.3 317.3,529.3 317.3,527.5 318.0,527.5 318.0,525.7 318.3,525.7 318.9,525.7 318.9,523.9 320.1,523.9 320.1,522.1 320.7,522.1 321.8,522.1 321.8,520.5 324.1,520.5 324.1,518.8 325.2,518.8 325.5,518.8 325.5,516.6 326.1,516.6 326.1,514.4 326.4,514.4 326.9,514.4 326.9,512.2 328.0,512.2 328.0,510.1 329.1,510.1 329.1,507.9 329.6,507.9 330.0,507.9 330.0,506.3 330.8,506.3 330.8,504.7 331.6,504.7 331.6,503.1 332.0,503.1 332.3,503.1 332.3,501.3 332.8,501.3 332.8,499.5 333.3,499.5 333.3,497.6 333.8,497.6 333.8,495.8 334.3,495.8 334.3,494.0 334.6,494.0 336.6,494.0 336.6,492.1 338.5,492.1 338.7,492.1 338.7,490.4 339.1,490.4 339.1,488.7 339.4,488.7 339.4,486.9 339.8,486.9 339.8,485.2 340.2,485.2 340.2,483.5 340.4,483.5 340.9,483.5 340.9,481.6 341.8,481.6 341.8,479.6 342.8,479.6 342.8,477.7 343.7,477.7 343.7,475.8 344.2,475.8 345.0,475.8 345.0,473.9 346.6,473.9 346.6,471.9 348.2,471.9 348.2,470.0 349.0,470.0 349.8,470.0 349.8,468.4 351.4,468.4 351.4,466.8 353.0,466.8 353.0,465.2 353.8,465.2 355.8,465.2 355.8,462.8 357.7,462.8 360.6,462.8 361.4,462.8 361.4,461.2 363.0,461.2 363.0,459.6 364.6,459.6 364.6,458.0 365.4,458.0 366.6,458.0 366.6,456.8 369.0,456.8 369.0,455.6 370.2,455.6 371.4,455.6 371.4,454.1 373.8,454.1 373.8,452.7 375.0,452.7 375.9,452.7 375.9,450.9 377.9,450.9 377.9,449.2 378.8,449.2 380.1,449.2 380.1,448.5 382.7,448.5 382.7,447.9 384.0,447.9 385.3,447.9 385.3,445.9 387.8,445.9 387.8,444.0 389.1,444.0 390.6,444.0 390.6,442.7 393.5,442.7 393.5,441.4 395.0,441.4 396.1,441.4 396.1,441.0 398.1,441.0 398.1,440.6 399.2,440.6 400.6,440.6 400.6,440.2 403.2,440.2 403.2,439.8 405.9,439.8 405.9,439.4 407.3,439.4 408.8,439.4 408.8,438.4 411.7,438.4 411.7,437.5 413.1,437.5 414.4,437.5 414.4,437.2 417.0,437.2 417.0,437.0 419.5,437.0 419.5,436.8 422.1,436.8 422.1,436.5 423.4,436.5 424.6,436.5 424.6,436.1 426.9,436.1 426.9,435.8 429.2,435.8 429.2,435.5 431.5,435.5 431.5,435.1 432.7,435.1 434.4,435.1 434.4,433.1 436.1,433.1 437.3,433.1 437.3,432.4 439.6,432.4 439.6,431.8 441.9,431.8 441.9,431.1 443.1,431.1 444.5,431.1 444.5,431.1 447.4,431.1 447.4,431.0 448.8,431.0 450.6,431.0 450.6,429.4 452.5,429.4 453.8,429.4 453.8,428.9 456.2,428.9 456.2,428.5 457.5,428.5 463.8,428.5 464.7,428.5 464.7,427.1 466.6,427.1 466.6,425.6 467.5,425.6 483.8,425.6 484.4,425.6 484.4,425.0 485.0,425.0 506.0,425.0" fill="none" stroke="#33558f" stroke-width="1.4" stroke-linejoin="miter" stroke-linecap="butt"/>
<polyline points="309.5,540.4 310.2,540.4 310.2,537.4 317.5,537.4 317.5,534.6 320.3,534.6 320.3,530.5 323.4,530.5 323.4,524.1 326.2,524.1 326.2,516.8 330.4,516.8 330.4,513.6 334.0,513.6 334.0,503.9 337.5,503.9 337.5,499.8 341.7,499.8 341.7,496.4 345.2,496.4 345.2,492.6 350.2,492.6 350.2,486.3 356.0,486.3 356.0,482.3 368.0,482.3 368.0,478.7 376.2,478.7 376.2,475.6 379.5,475.6 379.5,472.3 383.3,472.3 383.3,468.5 384.6,468.5 384.6,465.3 385.9,465.3 385.9,461.4 390.4,461.4 390.4,458.3 411.3,458.3 411.3,455.2 416.5,455.2 416.5,451.5 421.7,451.5 421.7,448.3 429.8,448.3 429.8,444.6 446.3,444.6 446.3,441.5 453.8,441.5 453.8,438.1 506.3,438.1 506.3,438.1" fill="none" stroke="#ae1640" stroke-width="1.4" stroke-linejoin="miter" stroke-linecap="butt"/>
<rect x="0.6" y="0.6" width="518.8" height="580.8" fill="none" stroke="#111" stroke-width="1.3"/>
</svg></body></html>
